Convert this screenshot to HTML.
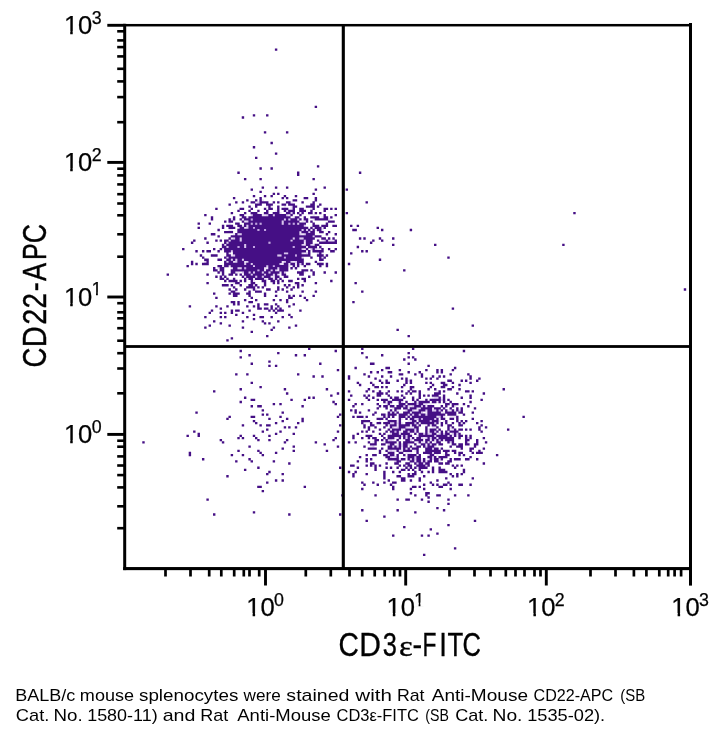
<!DOCTYPE html>
<html lang="en"><head><meta charset="utf-8">
<title>CD22-APC vs CD3ε-FITC flow cytometry dot plot</title>
<style>html,body{margin:0;padding:0;background:#fff;}body{width:720px;height:736px;overflow:hidden;}svg{display:block;}</style>
</head><body>
<svg width="720" height="736" viewBox="0 0 720 736">
<rect width="720" height="736" fill="#fff"/>
<path fill="#ece2f6" d="M261.73 199.26h2.21v2.12h-2.21zM290.46 201.38h2.21v2.12h-2.21zM266.15 205.63h2.21v2.12h-2.21zM270.57 205.63h2.21v2.12h-2.21zM283.83 205.63h2.21v2.12h-2.21zM290.46 205.63h2.21v2.12h-2.21zM290.46 207.75h2.21v2.12h-2.21zM310.35 207.75h2.21v2.12h-2.21zM274.99 209.87h2.21v2.12h-2.21zM257.31 211.99h2.21v2.12h-2.21zM279.41 211.99h2.21v2.12h-2.21zM299.3 211.99h2.21v2.12h-2.21zM261.73 214.12h4.42v2.12h-4.42zM288.25 214.12h2.21v2.12h-2.21zM312.56 214.12h2.21v2.12h-2.21zM246.26 216.24h2.21v2.12h-2.21zM292.67 216.24h2.21v2.12h-2.21zM321.4 216.24h2.21v2.12h-2.21zM230.79 218.36h2.21v2.12h-2.21zM241.84 218.36h2.21v2.12h-2.21zM312.56 218.36h2.21v2.12h-2.21zM328.03 218.36h2.21v2.12h-2.21zM244.05 220.48h2.21v2.12h-2.21zM301.51 220.48h4.42v2.12h-4.42zM228.58 222.61h2.21v2.12h-2.21zM241.84 224.73h2.21v2.12h-2.21zM237.42 226.85h2.21v2.12h-2.21zM244.05 226.85h2.21v2.12h-2.21zM312.56 226.85h2.21v2.12h-2.21zM321.4 226.85h2.21v2.12h-2.21zM228.58 228.97h4.42v2.12h-4.42zM310.35 228.97h2.21v2.12h-2.21zM314.77 228.97h2.21v2.12h-2.21zM321.4 228.97h2.21v2.12h-2.21zM299.3 231.1h2.21v2.12h-2.21zM233 233.22h2.21v2.12h-2.21zM301.51 233.22h2.21v2.12h-2.21zM230.79 237.47h2.21v2.12h-2.21zM228.58 239.59h2.21v2.12h-2.21zM321.4 239.59h2.21v2.12h-2.21zM328.03 239.59h6.63v2.12h-6.63zM303.72 241.71h2.21v2.12h-2.21zM224.16 243.83h2.21v2.12h-2.21zM303.72 243.83h2.21v2.12h-2.21zM312.56 243.83h2.21v2.12h-2.21zM305.93 245.96h2.21v2.12h-2.21zM221.95 248.08h2.21v2.12h-2.21zM303.72 248.08h2.21v2.12h-2.21zM316.98 248.08h4.42v2.12h-4.42zM228.58 252.32h2.21v2.12h-2.21zM303.72 252.32h2.21v2.12h-2.21zM321.4 252.32h2.21v2.12h-2.21zM230.79 254.45h2.21v2.12h-2.21zM233 260.81h2.21v2.12h-2.21zM244.05 260.81h2.21v2.12h-2.21zM281.62 260.81h2.21v2.12h-2.21zM292.67 260.81h2.21v2.12h-2.21zM319.19 260.81h2.21v2.12h-2.21zM281.62 262.94h2.21v2.12h-2.21zM288.25 262.94h2.21v2.12h-2.21zM294.88 262.94h2.21v2.12h-2.21zM221.95 265.06h2.21v2.12h-2.21zM228.58 265.06h2.21v2.12h-2.21zM288.25 265.06h2.21v2.12h-2.21zM294.88 265.06h2.21v2.12h-2.21zM217.53 267.18h2.21v2.12h-2.21zM230.79 267.18h2.21v2.12h-2.21zM263.94 267.18h4.42v2.12h-4.42zM263.94 269.31h2.21v2.12h-2.21zM277.2 269.31h2.21v2.12h-2.21zM219.74 271.43h2.21v2.12h-2.21zM235.21 271.43h4.42v2.12h-4.42zM279.41 271.43h2.21v2.12h-2.21zM303.72 271.43h2.21v2.12h-2.21zM277.2 273.55h2.21v2.12h-2.21zM221.95 275.67h2.21v2.12h-2.21zM244.05 275.67h2.21v2.12h-2.21zM270.57 275.67h4.42v2.12h-4.42zM246.26 277.8h2.21v2.12h-2.21zM252.89 277.8h2.21v2.12h-2.21zM263.94 277.8h4.42v2.12h-4.42zM272.78 277.8h2.21v2.12h-2.21zM277.2 277.8h2.21v2.12h-2.21zM252.89 279.92h2.21v2.12h-2.21zM274.99 279.92h2.21v2.12h-2.21zM233 282.04h2.21v2.12h-2.21zM294.88 284.16h2.21v2.12h-2.21zM250.68 288.41h2.21v2.12h-2.21zM255.1 288.41h2.21v2.12h-2.21zM235.21 290.53h2.21v2.12h-2.21zM230.79 292.65h2.21v2.12h-2.21zM277.2 307.51h2.21v2.12h-2.21zM407.6 379.68h2.21v2.12h-2.21zM440.75 383.93h2.21v2.12h-2.21zM412.02 388.17h2.21v2.12h-2.21zM436.33 390.3h2.21v2.12h-2.21zM398.76 396.66h2.21v2.12h-2.21zM431.91 396.66h2.21v2.12h-2.21zM440.75 396.66h2.21v2.12h-2.21zM385.5 400.91h2.21v2.12h-2.21zM396.55 400.91h2.21v2.12h-2.21zM412.02 400.91h2.21v2.12h-2.21zM416.44 400.91h2.21v2.12h-2.21zM436.33 400.91h2.21v2.12h-2.21zM445.17 400.91h2.21v2.12h-2.21zM385.5 403.03h2.21v2.12h-2.21zM389.92 403.03h2.21v2.12h-2.21zM423.07 403.03h4.42v2.12h-4.42zM429.7 403.03h2.21v2.12h-2.21zM407.6 405.16h4.42v2.12h-4.42zM425.28 405.16h2.21v2.12h-2.21zM454.01 405.16h2.21v2.12h-2.21zM392.13 407.28h2.21v2.12h-2.21zM407.6 407.28h2.21v2.12h-2.21zM416.44 407.28h4.42v2.12h-4.42zM431.91 407.28h2.21v2.12h-2.21zM396.55 409.4h2.21v2.12h-2.21zM414.23 409.4h4.42v2.12h-4.42zM447.38 409.4h4.42v2.12h-4.42zM454.01 409.4h2.21v2.12h-2.21zM394.34 411.52h2.21v2.12h-2.21zM409.81 411.52h2.21v2.12h-2.21zM425.28 411.52h2.21v2.12h-2.21zM440.75 411.52h4.42v2.12h-4.42zM385.5 413.65h2.21v2.12h-2.21zM407.6 413.65h2.21v2.12h-2.21zM381.08 415.77h2.21v2.12h-2.21zM385.5 415.77h2.21v2.12h-2.21zM389.92 415.77h2.21v2.12h-2.21zM405.39 415.77h2.21v2.12h-2.21zM409.81 415.77h2.21v2.12h-2.21zM436.33 415.77h2.21v2.12h-2.21zM442.96 415.77h2.21v2.12h-2.21zM449.59 415.77h6.63v2.12h-6.63zM363.4 417.89h2.21v2.12h-2.21zM389.92 417.89h2.21v2.12h-2.21zM400.97 417.89h2.21v2.12h-2.21zM378.87 420.01h2.21v2.12h-2.21zM385.5 420.01h2.21v2.12h-2.21zM396.55 420.01h2.21v2.12h-2.21zM407.6 420.01h2.21v2.12h-2.21zM438.54 420.01h2.21v2.12h-2.21zM442.96 420.01h2.21v2.12h-2.21zM363.4 422.14h2.21v2.12h-2.21zM400.97 422.14h2.21v2.12h-2.21zM418.65 422.14h2.21v2.12h-2.21zM460.64 422.14h2.21v2.12h-2.21zM387.71 424.26h2.21v2.12h-2.21zM396.55 424.26h2.21v2.12h-2.21zM409.81 424.26h2.21v2.12h-2.21zM416.44 424.26h2.21v2.12h-2.21zM425.28 424.26h2.21v2.12h-2.21zM429.7 424.26h2.21v2.12h-2.21zM394.34 426.38h2.21v2.12h-2.21zM407.6 426.38h6.63v2.12h-6.63zM431.91 426.38h4.42v2.12h-4.42zM449.59 426.38h2.21v2.12h-2.21zM389.92 428.5h2.21v2.12h-2.21zM400.97 428.5h4.42v2.12h-4.42zM427.49 428.5h2.21v2.12h-2.21zM449.59 428.5h4.42v2.12h-4.42zM398.76 430.63h2.21v2.12h-2.21zM414.23 430.63h2.21v2.12h-2.21zM427.49 430.63h2.21v2.12h-2.21zM447.38 430.63h2.21v2.12h-2.21zM398.76 432.75h2.21v2.12h-2.21zM409.81 432.75h2.21v2.12h-2.21zM416.44 434.87h2.21v2.12h-2.21zM451.8 434.87h2.21v2.12h-2.21zM456.22 434.87h2.21v2.12h-2.21zM394.34 437h4.42v2.12h-4.42zM409.81 437h2.21v2.12h-2.21zM423.07 437h2.21v2.12h-2.21zM436.33 437h2.21v2.12h-2.21zM392.13 439.12h2.21v2.12h-2.21zM429.7 439.12h2.21v2.12h-2.21zM434.12 439.12h2.21v2.12h-2.21zM442.96 439.12h2.21v2.12h-2.21zM372.24 441.24h2.21v2.12h-2.21zM383.29 441.24h2.21v2.12h-2.21zM416.44 441.24h2.21v2.12h-2.21zM420.86 441.24h4.42v2.12h-4.42zM427.49 441.24h2.21v2.12h-2.21zM434.12 441.24h2.21v2.12h-2.21zM467.27 441.24h2.21v2.12h-2.21zM396.55 443.36h2.21v2.12h-2.21zM425.28 443.36h2.21v2.12h-2.21zM370.03 445.49h2.21v2.12h-2.21zM414.23 445.49h2.21v2.12h-2.21zM434.12 445.49h2.21v2.12h-2.21zM400.97 447.61h2.21v2.12h-2.21zM409.81 447.61h2.21v2.12h-2.21zM387.71 449.73h2.21v2.12h-2.21zM392.13 449.73h4.42v2.12h-4.42zM398.76 449.73h4.42v2.12h-4.42zM414.23 449.73h2.21v2.12h-2.21zM405.39 451.85h6.63v2.12h-6.63zM447.38 451.85h2.21v2.12h-2.21zM416.44 453.98h2.21v2.12h-2.21zM436.33 453.98h2.21v2.12h-2.21zM442.96 453.98h2.21v2.12h-2.21zM392.13 456.1h2.21v2.12h-2.21zM405.39 456.1h2.21v2.12h-2.21zM398.76 458.22h2.21v2.12h-2.21zM420.86 458.22h2.21v2.12h-2.21zM427.49 458.22h2.21v2.12h-2.21zM438.54 458.22h2.21v2.12h-2.21zM414.23 460.34h2.21v2.12h-2.21zM425.28 460.34h2.21v2.12h-2.21zM438.54 460.34h2.21v2.12h-2.21zM409.81 462.47h2.21v2.12h-2.21zM423.07 462.47h2.21v2.12h-2.21zM372.24 464.59h2.21v2.12h-2.21zM405.39 464.59h2.21v2.12h-2.21zM407.6 466.71h2.21v2.12h-2.21zM416.44 466.71h2.21v2.12h-2.21zM420.86 468.84h2.21v2.12h-2.21zM409.81 473.08h2.21v2.12h-2.21z"/>
<path fill="#d9c5ee" d="M257.31 201.38h2.21v2.12h-2.21zM286.04 209.87h2.21v2.12h-2.21zM290.46 211.99h2.21v2.12h-2.21zM250.68 214.12h2.21v2.12h-2.21zM266.15 214.12h2.21v2.12h-2.21zM272.78 214.12h2.21v2.12h-2.21zM286.04 214.12h2.21v2.12h-2.21zM283.83 218.36h2.21v2.12h-2.21zM288.25 218.36h2.21v2.12h-2.21zM297.09 218.36h2.21v2.12h-2.21zM246.26 220.48h2.21v2.12h-2.21zM281.62 220.48h2.21v2.12h-2.21zM281.62 222.61h2.21v2.12h-2.21zM297.09 222.61h2.21v2.12h-2.21zM246.26 224.73h2.21v2.12h-2.21zM303.72 224.73h2.21v2.12h-2.21zM246.26 226.85h2.21v2.12h-2.21zM301.51 228.97h2.21v2.12h-2.21zM305.93 228.97h2.21v2.12h-2.21zM308.14 231.1h2.21v2.12h-2.21zM237.42 233.22h4.42v2.12h-4.42zM299.3 233.22h2.21v2.12h-2.21zM303.72 233.22h2.21v2.12h-2.21zM312.56 235.34h2.21v2.12h-2.21zM233 237.47h2.21v2.12h-2.21zM239.63 237.47h2.21v2.12h-2.21zM292.67 237.47h2.21v2.12h-2.21zM299.3 237.47h4.42v2.12h-4.42zM239.63 239.59h2.21v2.12h-2.21zM290.46 239.59h2.21v2.12h-2.21zM303.72 239.59h2.21v2.12h-2.21zM323.61 239.59h2.21v2.12h-2.21zM226.37 241.71h2.21v2.12h-2.21zM244.05 243.83h2.21v2.12h-2.21zM301.51 243.83h2.21v2.12h-2.21zM310.35 243.83h2.21v2.12h-2.21zM226.37 245.96h2.21v2.12h-2.21zM244.05 245.96h2.21v2.12h-2.21zM301.51 248.08h2.21v2.12h-2.21zM310.35 248.08h2.21v2.12h-2.21zM314.77 248.08h2.21v2.12h-2.21zM230.79 250.2h2.21v2.12h-2.21zM283.83 252.32h4.42v2.12h-4.42zM301.51 252.32h2.21v2.12h-2.21zM305.93 252.32h2.21v2.12h-2.21zM316.98 252.32h2.21v2.12h-2.21zM233 254.45h2.21v2.12h-2.21zM277.2 254.45h4.42v2.12h-4.42zM226.37 256.57h2.21v2.12h-2.21zM301.51 256.57h2.21v2.12h-2.21zM321.4 256.57h2.21v2.12h-2.21zM230.79 258.69h2.21v2.12h-2.21zM235.21 258.69h2.21v2.12h-2.21zM241.84 258.69h2.21v2.12h-2.21zM204.27 260.81h2.21v2.12h-2.21zM226.37 260.81h2.21v2.12h-2.21zM235.21 260.81h2.21v2.12h-2.21zM246.26 260.81h2.21v2.12h-2.21zM283.83 260.81h2.21v2.12h-2.21zM290.46 260.81h2.21v2.12h-2.21zM294.88 260.81h2.21v2.12h-2.21zM244.05 262.94h2.21v2.12h-2.21zM250.68 262.94h2.21v2.12h-2.21zM279.41 262.94h2.21v2.12h-2.21zM299.3 262.94h2.21v2.12h-2.21zM252.89 265.06h2.21v2.12h-2.21zM266.15 265.06h2.21v2.12h-2.21zM237.42 267.18h4.42v2.12h-4.42zM277.2 267.18h2.21v2.12h-2.21zM270.57 269.31h2.21v2.12h-2.21zM274.99 269.31h2.21v2.12h-2.21zM241.84 271.43h2.21v2.12h-2.21zM248.47 271.43h2.21v2.12h-2.21zM252.89 271.43h2.21v2.12h-2.21zM261.73 271.43h2.21v2.12h-2.21zM268.36 271.43h2.21v2.12h-2.21zM283.83 271.43h2.21v2.12h-2.21zM250.68 273.55h2.21v2.12h-2.21zM263.94 273.55h2.21v2.12h-2.21zM272.78 273.55h2.21v2.12h-2.21zM255.1 275.67h2.21v2.12h-2.21zM261.73 275.67h2.21v2.12h-2.21zM252.89 284.16h2.21v2.12h-2.21zM434.12 396.66h4.42v2.12h-4.42zM440.75 398.79h2.21v2.12h-2.21zM400.97 400.91h2.21v2.12h-2.21zM416.44 403.03h2.21v2.12h-2.21zM403.18 405.16h2.21v2.12h-2.21zM412.02 405.16h2.21v2.12h-2.21zM420.86 405.16h2.21v2.12h-2.21zM405.39 409.4h2.21v2.12h-2.21zM412.02 409.4h2.21v2.12h-2.21zM425.28 409.4h2.21v2.12h-2.21zM431.91 409.4h4.42v2.12h-4.42zM438.54 409.4h2.21v2.12h-2.21zM458.43 409.4h2.21v2.12h-2.21zM389.92 411.52h2.21v2.12h-2.21zM420.86 411.52h2.21v2.12h-2.21zM412.02 413.65h2.21v2.12h-2.21zM418.65 413.65h2.21v2.12h-2.21zM425.28 413.65h2.21v2.12h-2.21zM438.54 415.77h2.21v2.12h-2.21zM414.23 417.89h4.42v2.12h-4.42zM434.12 417.89h2.21v2.12h-2.21zM409.81 420.01h2.21v2.12h-2.21zM389.92 422.14h4.42v2.12h-4.42zM396.55 422.14h2.21v2.12h-2.21zM414.23 422.14h2.21v2.12h-2.21zM434.12 422.14h2.21v2.12h-2.21zM392.13 426.38h2.21v2.12h-2.21zM396.55 426.38h2.21v2.12h-2.21zM405.39 426.38h2.21v2.12h-2.21zM414.23 428.5h2.21v2.12h-2.21zM407.6 430.63h2.21v2.12h-2.21zM434.12 430.63h2.21v2.12h-2.21zM389.92 432.75h2.21v2.12h-2.21zM423.07 432.75h2.21v2.12h-2.21zM427.49 432.75h4.42v2.12h-4.42zM438.54 432.75h2.21v2.12h-2.21zM442.96 432.75h2.21v2.12h-2.21zM451.8 432.75h2.21v2.12h-2.21zM456.22 432.75h2.21v2.12h-2.21zM400.97 434.87h2.21v2.12h-2.21zM405.39 434.87h2.21v2.12h-2.21zM434.12 434.87h2.21v2.12h-2.21zM447.38 434.87h2.21v2.12h-2.21zM405.39 437h2.21v2.12h-2.21zM420.86 437h2.21v2.12h-2.21zM425.28 437h2.21v2.12h-2.21zM429.7 437h2.21v2.12h-2.21zM467.27 437h2.21v2.12h-2.21zM387.71 439.12h4.42v2.12h-4.42zM409.81 439.12h2.21v2.12h-2.21zM438.54 439.12h2.21v2.12h-2.21zM449.59 441.24h2.21v2.12h-2.21zM387.71 443.36h2.21v2.12h-2.21zM400.97 443.36h2.21v2.12h-2.21zM407.6 443.36h2.21v2.12h-2.21zM429.7 443.36h2.21v2.12h-2.21zM372.24 445.49h2.21v2.12h-2.21zM392.13 445.49h2.21v2.12h-2.21zM396.55 445.49h2.21v2.12h-2.21zM400.97 445.49h2.21v2.12h-2.21zM425.28 445.49h2.21v2.12h-2.21zM405.39 447.61h2.21v2.12h-2.21zM431.91 447.61h2.21v2.12h-2.21zM389.92 449.73h2.21v2.12h-2.21zM431.91 451.85h2.21v2.12h-2.21zM387.71 453.98h2.21v2.12h-2.21zM427.49 453.98h2.21v2.12h-2.21zM389.92 456.1h2.21v2.12h-2.21zM394.34 456.1h2.21v2.12h-2.21zM414.23 456.1h2.21v2.12h-2.21zM431.91 456.1h2.21v2.12h-2.21zM409.81 458.22h2.21v2.12h-2.21zM414.23 458.22h2.21v2.12h-2.21zM431.91 458.22h2.21v2.12h-2.21zM394.34 460.34h2.21v2.12h-2.21zM420.86 460.34h2.21v2.12h-2.21zM416.44 462.47h2.21v2.12h-2.21zM425.28 464.59h2.21v2.12h-2.21z"/>
<path fill="#c3a4e4" d="M250.68 218.36h2.21v2.12h-2.21zM250.68 222.61h2.21v2.12h-2.21zM255.1 222.61h2.21v2.12h-2.21zM259.52 222.61h2.21v2.12h-2.21zM288.25 222.61h2.21v2.12h-2.21zM292.67 222.61h2.21v2.12h-2.21zM252.89 226.85h2.21v2.12h-2.21zM257.31 228.97h2.21v2.12h-2.21zM263.94 228.97h2.21v2.12h-2.21zM268.36 241.71h2.21v2.12h-2.21zM237.42 245.96h2.21v2.12h-2.21zM252.89 245.96h2.21v2.12h-2.21zM292.67 245.96h2.21v2.12h-2.21zM294.88 254.45h2.21v2.12h-2.21zM283.83 256.57h2.21v2.12h-2.21zM272.78 265.06h2.21v2.12h-2.21zM244.05 267.18h2.21v2.12h-2.21zM257.31 269.31h2.21v2.12h-2.21zM420.86 417.89h2.21v2.12h-2.21zM429.7 420.01h2.21v2.12h-2.21zM394.34 430.63h2.21v2.12h-2.21z"/>
<path fill="#450f85" d="M274.89 48.45h2.41v2.32h-2.41zM314.67 105.76h2.41v2.32h-2.41zM252.79 114.25h2.41v2.32h-2.41zM266.05 114.25h2.41v2.32h-2.41zM241.74 116.37h2.41v2.32h-2.41zM263.84 131.23h2.41v2.32h-2.41zM285.94 131.23h2.41v2.32h-2.41zM270.47 141.85h2.41v2.32h-2.41zM252.79 146.09h2.41v2.32h-2.41zM274.89 152.46h2.41v2.32h-2.41zM255 156.7h2.41v2.32h-2.41zM316.88 165.2h2.41v2.32h-2.41zM259.42 167.32h2.41v2.32h-2.41zM270.47 167.32h2.41v2.32h-2.41zM237.32 171.56h2.41v2.32h-2.41zM296.99 171.56h2.41v2.32h-2.41zM358.88 171.56h2.41v2.32h-2.41zM296.99 173.69h2.41v2.32h-2.41zM243.95 177.93h2.41v2.32h-2.41zM259.42 177.93h2.41v2.32h-2.41zM312.46 177.93h2.41v2.32h-2.41zM261.63 186.42h2.41v2.32h-2.41zM274.89 186.42h2.41v2.32h-2.41zM285.94 186.42h2.41v2.32h-2.41zM323.51 186.42h2.41v2.32h-2.41zM250.58 188.54h2.41v2.32h-2.41zM314.67 188.54h2.41v2.32h-2.41zM345.62 188.54h2.41v2.32h-2.41zM259.42 190.67h2.41v2.32h-2.41zM272.68 192.79h2.41v2.32h-2.41zM277.1 192.79h2.41v2.32h-2.41zM312.46 192.79h2.41v2.32h-2.41zM252.79 194.91h2.41v2.32h-2.41zM263.84 194.91h2.41v2.32h-2.41zM270.47 194.91h2.41v2.32h-2.41zM283.73 194.91h2.41v2.32h-2.41zM294.78 194.91h2.41v2.32h-2.41zM232.9 197.04h2.41v2.32h-2.41zM259.42 197.04h2.41v2.32h-2.41zM281.52 197.04h2.41v2.32h-2.41zM285.94 197.04h2.41v2.32h-2.41zM303.62 197.04h4.62v2.32h-4.62zM314.67 197.04h2.41v2.32h-2.41zM246.16 199.16h2.41v2.32h-2.41zM255 199.16h2.41v2.32h-2.41zM259.42 199.16h2.41v2.32h-2.41zM292.57 199.16h4.62v2.32h-4.62zM314.67 199.16h2.41v2.32h-2.41zM235.11 201.28h2.41v2.32h-2.41zM241.74 201.28h2.41v2.32h-2.41zM250.58 201.28h4.62v2.32h-4.62zM259.42 201.28h9.04v2.32h-9.04zM272.68 201.28h2.41v2.32h-2.41zM277.1 201.28h2.41v2.32h-2.41zM285.94 201.28h4.62v2.32h-4.62zM301.41 201.28h2.41v2.32h-2.41zM312.46 201.28h2.41v2.32h-2.41zM365.51 201.28h2.41v2.32h-2.41zM228.48 203.4h2.41v2.32h-2.41zM255 203.4h6.83v2.32h-6.83zM266.05 203.4h6.83v2.32h-6.83zM281.52 203.4h4.62v2.32h-4.62zM288.15 203.4h6.83v2.32h-6.83zM310.25 203.4h4.62v2.32h-4.62zM319.09 203.4h2.41v2.32h-2.41zM248.37 205.53h2.41v2.32h-2.41zM255 205.53h2.41v2.32h-2.41zM268.26 205.53h2.41v2.32h-2.41zM277.1 205.53h2.41v2.32h-2.41zM292.57 205.53h4.62v2.32h-4.62zM305.83 205.53h9.04v2.32h-9.04zM316.88 205.53h2.41v2.32h-2.41zM215.22 207.65h2.41v2.32h-2.41zM239.53 207.65h4.62v2.32h-4.62zM250.58 207.65h2.41v2.32h-2.41zM263.84 207.65h2.41v2.32h-2.41zM268.26 207.65h4.62v2.32h-4.62zM277.1 207.65h2.41v2.32h-2.41zM281.52 207.65h6.83v2.32h-6.83zM292.57 207.65h2.41v2.32h-2.41zM299.2 207.65h4.62v2.32h-4.62zM312.46 207.65h2.41v2.32h-2.41zM323.51 207.65h4.62v2.32h-4.62zM330.14 207.65h2.41v2.32h-2.41zM334.56 207.65h2.41v2.32h-2.41zM237.32 209.77h2.41v2.32h-2.41zM248.37 209.77h2.41v2.32h-2.41zM257.21 209.77h2.41v2.32h-2.41zM266.05 209.77h2.41v2.32h-2.41zM277.1 209.77h2.41v2.32h-2.41zM283.73 209.77h2.41v2.32h-2.41zM288.15 209.77h6.83v2.32h-6.83zM299.2 209.77h6.83v2.32h-6.83zM310.25 209.77h2.41v2.32h-2.41zM323.51 209.77h2.41v2.32h-2.41zM230.69 211.89h2.41v2.32h-2.41zM243.95 211.89h2.41v2.32h-2.41zM250.58 211.89h6.83v2.32h-6.83zM263.84 211.89h4.62v2.32h-4.62zM272.68 211.89h6.83v2.32h-6.83zM285.94 211.89h4.62v2.32h-4.62zM292.57 211.89h2.41v2.32h-2.41zM296.99 211.89h2.41v2.32h-2.41zM301.41 211.89h2.41v2.32h-2.41zM308.04 211.89h4.62v2.32h-4.62zM314.67 211.89h2.41v2.32h-2.41zM319.09 211.89h2.41v2.32h-2.41zM345.62 211.89h2.41v2.32h-2.41zM573.26 211.89h2.41v2.32h-2.41zM204.17 214.02h2.41v2.32h-2.41zM239.53 214.02h4.62v2.32h-4.62zM252.79 214.02h9.04v2.32h-9.04zM268.26 214.02h4.62v2.32h-4.62zM274.89 214.02h11.25v2.32h-11.25zM290.36 214.02h2.41v2.32h-2.41zM299.2 214.02h2.41v2.32h-2.41zM323.51 214.02h2.41v2.32h-2.41zM334.56 214.02h2.41v2.32h-2.41zM210.8 216.14h2.41v2.32h-2.41zM232.9 216.14h2.41v2.32h-2.41zM241.74 216.14h4.62v2.32h-4.62zM248.37 216.14h42.19v2.32h-42.19zM294.78 216.14h4.62v2.32h-4.62zM303.62 216.14h2.41v2.32h-2.41zM310.25 216.14h9.04v2.32h-9.04zM323.51 216.14h4.62v2.32h-4.62zM330.14 216.14h2.41v2.32h-2.41zM210.8 218.26h2.41v2.32h-2.41zM228.48 218.26h2.41v2.32h-2.41zM232.9 218.26h2.41v2.32h-2.41zM239.53 218.26h2.41v2.32h-2.41zM243.95 218.26h6.83v2.32h-6.83zM252.79 218.26h31.14v2.32h-31.14zM285.94 218.26h2.41v2.32h-2.41zM290.36 218.26h6.83v2.32h-6.83zM299.2 218.26h2.41v2.32h-2.41zM303.62 218.26h4.62v2.32h-4.62zM314.67 218.26h13.46v2.32h-13.46zM224.06 220.38h2.41v2.32h-2.41zM228.48 220.38h4.62v2.32h-4.62zM241.74 220.38h2.41v2.32h-2.41zM248.37 220.38h33.35v2.32h-33.35zM283.73 220.38h15.67v2.32h-15.67zM305.83 220.38h2.41v2.32h-2.41zM310.25 220.38h2.41v2.32h-2.41zM327.93 220.38h6.83v2.32h-6.83zM197.54 222.51h2.41v2.32h-2.41zM208.59 222.51h2.41v2.32h-2.41zM235.11 222.51h4.62v2.32h-4.62zM243.95 222.51h6.83v2.32h-6.83zM252.79 222.51h2.41v2.32h-2.41zM257.21 222.51h2.41v2.32h-2.41zM261.63 222.51h20.09v2.32h-20.09zM283.73 222.51h4.62v2.32h-4.62zM290.36 222.51h2.41v2.32h-2.41zM294.78 222.51h2.41v2.32h-2.41zM299.2 222.51h6.83v2.32h-6.83zM312.46 222.51h2.41v2.32h-2.41zM325.72 222.51h2.41v2.32h-2.41zM221.85 224.63h2.41v2.32h-2.41zM226.27 224.63h6.83v2.32h-6.83zM237.32 224.63h4.62v2.32h-4.62zM243.95 224.63h2.41v2.32h-2.41zM248.37 224.63h55.45v2.32h-55.45zM312.46 224.63h6.83v2.32h-6.83zM321.3 224.63h6.83v2.32h-6.83zM332.35 224.63h4.62v2.32h-4.62zM350.04 224.63h2.41v2.32h-2.41zM356.67 224.63h2.41v2.32h-2.41zM197.54 226.75h2.41v2.32h-2.41zM221.85 226.75h2.41v2.32h-2.41zM228.48 226.75h6.83v2.32h-6.83zM239.53 226.75h4.62v2.32h-4.62zM248.37 226.75h4.62v2.32h-4.62zM255 226.75h53.24v2.32h-53.24zM310.25 226.75h2.41v2.32h-2.41zM314.67 226.75h6.83v2.32h-6.83zM323.51 226.75h2.41v2.32h-2.41zM376.56 226.75h2.41v2.32h-2.41zM217.43 228.87h2.41v2.32h-2.41zM237.32 228.87h20.09v2.32h-20.09zM259.42 228.87h4.62v2.32h-4.62zM266.05 228.87h35.56v2.32h-35.56zM303.62 228.87h2.41v2.32h-2.41zM308.04 228.87h2.41v2.32h-2.41zM312.46 228.87h2.41v2.32h-2.41zM316.88 228.87h4.62v2.32h-4.62zM352.25 228.87h4.62v2.32h-4.62zM380.98 228.87h2.41v2.32h-2.41zM409.71 228.87h2.41v2.32h-2.41zM224.06 231h9.04v2.32h-9.04zM237.32 231h62.08v2.32h-62.08zM301.41 231h6.83v2.32h-6.83zM310.25 231h4.62v2.32h-4.62zM319.09 231h4.62v2.32h-4.62zM327.93 231h2.41v2.32h-2.41zM210.8 233.12h4.62v2.32h-4.62zM235.11 233.12h2.41v2.32h-2.41zM241.74 233.12h57.66v2.32h-57.66zM305.83 233.12h9.04v2.32h-9.04zM325.72 233.12h2.41v2.32h-2.41zM334.56 233.12h2.41v2.32h-2.41zM217.43 235.24h2.41v2.32h-2.41zM230.69 235.24h81.98v2.32h-81.98zM314.67 235.24h6.83v2.32h-6.83zM204.17 237.37h2.41v2.32h-2.41zM228.48 237.37h2.41v2.32h-2.41zM235.11 237.37h4.62v2.32h-4.62zM241.74 237.37h51.03v2.32h-51.03zM294.78 237.37h4.62v2.32h-4.62zM303.62 237.37h11.25v2.32h-11.25zM321.3 237.37h4.62v2.32h-4.62zM327.93 237.37h2.41v2.32h-2.41zM332.35 237.37h2.41v2.32h-2.41zM358.88 237.37h2.41v2.32h-2.41zM363.3 237.37h2.41v2.32h-2.41zM378.77 237.37h2.41v2.32h-2.41zM392.03 237.37h2.41v2.32h-2.41zM193.11 239.49h2.41v2.32h-2.41zM215.22 239.49h2.41v2.32h-2.41zM219.64 239.49h2.41v2.32h-2.41zM224.06 239.49h4.62v2.32h-4.62zM230.69 239.49h9.04v2.32h-9.04zM241.74 239.49h48.82v2.32h-48.82zM292.57 239.49h11.25v2.32h-11.25zM305.83 239.49h6.83v2.32h-6.83zM316.88 239.49h2.41v2.32h-2.41zM325.72 239.49h2.41v2.32h-2.41zM334.56 239.49h2.41v2.32h-2.41zM372.14 239.49h2.41v2.32h-2.41zM380.98 239.49h2.41v2.32h-2.41zM190.9 241.61h2.41v2.32h-2.41zM206.38 241.61h2.41v2.32h-2.41zM224.06 241.61h2.41v2.32h-2.41zM228.48 241.61h39.98v2.32h-39.98zM270.47 241.61h33.35v2.32h-33.35zM305.83 241.61h6.83v2.32h-6.83zM319.09 241.61h17.88v2.32h-17.88zM369.93 241.61h2.41v2.32h-2.41zM221.85 243.73h2.41v2.32h-2.41zM226.27 243.73h17.88v2.32h-17.88zM246.16 243.73h55.45v2.32h-55.45zM305.83 243.73h4.62v2.32h-4.62zM314.67 243.73h4.62v2.32h-4.62zM392.03 243.73h2.41v2.32h-2.41zM434.02 243.73h2.41v2.32h-2.41zM562.21 243.73h2.41v2.32h-2.41zM221.85 245.86h4.62v2.32h-4.62zM228.48 245.86h9.04v2.32h-9.04zM239.53 245.86h4.62v2.32h-4.62zM246.16 245.86h6.83v2.32h-6.83zM255 245.86h37.77v2.32h-37.77zM294.78 245.86h11.25v2.32h-11.25zM308.04 245.86h9.04v2.32h-9.04zM319.09 245.86h2.41v2.32h-2.41zM356.67 245.86h2.41v2.32h-2.41zM182.06 247.98h2.41v2.32h-2.41zM213.01 247.98h2.41v2.32h-2.41zM219.64 247.98h2.41v2.32h-2.41zM224.06 247.98h77.56v2.32h-77.56zM305.83 247.98h2.41v2.32h-2.41zM312.46 247.98h2.41v2.32h-2.41zM321.3 247.98h2.41v2.32h-2.41zM327.93 247.98h2.41v2.32h-2.41zM334.56 247.98h2.41v2.32h-2.41zM195.33 250.1h2.41v2.32h-2.41zM201.96 250.1h2.41v2.32h-2.41zM206.38 250.1h4.62v2.32h-4.62zM217.43 250.1h2.41v2.32h-2.41zM224.06 250.1h6.83v2.32h-6.83zM232.9 250.1h73.14v2.32h-73.14zM308.04 250.1h2.41v2.32h-2.41zM312.46 250.1h11.25v2.32h-11.25zM330.14 250.1h4.62v2.32h-4.62zM361.09 250.1h2.41v2.32h-2.41zM365.51 250.1h2.41v2.32h-2.41zM226.27 252.22h2.41v2.32h-2.41zM232.9 252.22h51.03v2.32h-51.03zM288.15 252.22h13.46v2.32h-13.46zM308.04 252.22h2.41v2.32h-2.41zM319.09 252.22h2.41v2.32h-2.41zM350.04 252.22h2.41v2.32h-2.41zM199.75 254.35h2.41v2.32h-2.41zM210.8 254.35h6.83v2.32h-6.83zM226.27 254.35h4.62v2.32h-4.62zM235.11 254.35h42.19v2.32h-42.19zM281.52 254.35h13.46v2.32h-13.46zM296.99 254.35h13.46v2.32h-13.46zM316.88 254.35h6.83v2.32h-6.83zM325.72 254.35h2.41v2.32h-2.41zM201.96 256.47h2.41v2.32h-2.41zM224.06 256.47h2.41v2.32h-2.41zM228.48 256.47h55.45v2.32h-55.45zM285.94 256.47h15.67v2.32h-15.67zM310.25 256.47h2.41v2.32h-2.41zM319.09 256.47h2.41v2.32h-2.41zM323.51 256.47h2.41v2.32h-2.41zM447.28 256.47h2.41v2.32h-2.41zM204.17 258.59h4.62v2.32h-4.62zM217.43 258.59h4.62v2.32h-4.62zM226.27 258.59h4.62v2.32h-4.62zM232.9 258.59h2.41v2.32h-2.41zM237.32 258.59h4.62v2.32h-4.62zM243.95 258.59h59.87v2.32h-59.87zM319.09 258.59h4.62v2.32h-4.62zM378.77 258.59h2.41v2.32h-2.41zM190.9 260.71h2.41v2.32h-2.41zM206.38 260.71h2.41v2.32h-2.41zM224.06 260.71h2.41v2.32h-2.41zM228.48 260.71h4.62v2.32h-4.62zM237.32 260.71h6.83v2.32h-6.83zM248.37 260.71h33.35v2.32h-33.35zM285.94 260.71h4.62v2.32h-4.62zM296.99 260.71h6.83v2.32h-6.83zM314.67 260.71h2.41v2.32h-2.41zM190.9 262.84h2.41v2.32h-2.41zM195.33 262.84h2.41v2.32h-2.41zM201.96 262.84h6.83v2.32h-6.83zM224.06 262.84h20.09v2.32h-20.09zM246.16 262.84h4.62v2.32h-4.62zM252.79 262.84h26.72v2.32h-26.72zM283.73 262.84h4.62v2.32h-4.62zM290.36 262.84h4.62v2.32h-4.62zM296.99 262.84h2.41v2.32h-2.41zM301.41 262.84h2.41v2.32h-2.41zM305.83 262.84h4.62v2.32h-4.62zM316.88 262.84h6.83v2.32h-6.83zM325.72 262.84h2.41v2.32h-2.41zM347.83 262.84h2.41v2.32h-2.41zM186.48 264.96h2.41v2.32h-2.41zM217.43 264.96h4.62v2.32h-4.62zM224.06 264.96h4.62v2.32h-4.62zM230.69 264.96h22.3v2.32h-22.3zM255 264.96h11.25v2.32h-11.25zM268.26 264.96h4.62v2.32h-4.62zM274.89 264.96h13.46v2.32h-13.46zM292.57 264.96h2.41v2.32h-2.41zM296.99 264.96h2.41v2.32h-2.41zM303.62 264.96h2.41v2.32h-2.41zM319.09 264.96h2.41v2.32h-2.41zM325.72 264.96h2.41v2.32h-2.41zM213.01 267.08h2.41v2.32h-2.41zM219.64 267.08h4.62v2.32h-4.62zM232.9 267.08h4.62v2.32h-4.62zM241.74 267.08h2.41v2.32h-2.41zM246.16 267.08h17.88v2.32h-17.88zM268.26 267.08h9.04v2.32h-9.04zM279.31 267.08h9.04v2.32h-9.04zM290.36 267.08h2.41v2.32h-2.41zM294.78 267.08h2.41v2.32h-2.41zM213.01 269.21h4.62v2.32h-4.62zM219.64 269.21h4.62v2.32h-4.62zM230.69 269.21h26.72v2.32h-26.72zM259.42 269.21h4.62v2.32h-4.62zM266.05 269.21h4.62v2.32h-4.62zM272.68 269.21h2.41v2.32h-2.41zM279.31 269.21h9.04v2.32h-9.04zM301.41 269.21h6.83v2.32h-6.83zM310.25 269.21h2.41v2.32h-2.41zM403.08 269.21h2.41v2.32h-2.41zM217.43 271.33h2.41v2.32h-2.41zM221.85 271.33h2.41v2.32h-2.41zM230.69 271.33h4.62v2.32h-4.62zM243.95 271.33h4.62v2.32h-4.62zM250.58 271.33h2.41v2.32h-2.41zM255 271.33h6.83v2.32h-6.83zM263.84 271.33h4.62v2.32h-4.62zM270.47 271.33h9.04v2.32h-9.04zM281.52 271.33h2.41v2.32h-2.41zM296.99 271.33h6.83v2.32h-6.83zM312.46 271.33h2.41v2.32h-2.41zM323.51 271.33h2.41v2.32h-2.41zM334.56 271.33h2.41v2.32h-2.41zM166.59 273.45h2.41v2.32h-2.41zM206.38 273.45h2.41v2.32h-2.41zM221.85 273.45h2.41v2.32h-2.41zM228.48 273.45h4.62v2.32h-4.62zM235.11 273.45h2.41v2.32h-2.41zM239.53 273.45h2.41v2.32h-2.41zM243.95 273.45h6.83v2.32h-6.83zM252.79 273.45h11.25v2.32h-11.25zM266.05 273.45h6.83v2.32h-6.83zM274.89 273.45h2.41v2.32h-2.41zM281.52 273.45h4.62v2.32h-4.62zM299.2 273.45h4.62v2.32h-4.62zM312.46 273.45h2.41v2.32h-2.41zM215.22 275.57h2.41v2.32h-2.41zM219.64 275.57h2.41v2.32h-2.41zM224.06 275.57h2.41v2.32h-2.41zM241.74 275.57h2.41v2.32h-2.41zM246.16 275.57h9.04v2.32h-9.04zM257.21 275.57h4.62v2.32h-4.62zM263.84 275.57h6.83v2.32h-6.83zM274.89 275.57h4.62v2.32h-4.62zM283.73 275.57h4.62v2.32h-4.62zM308.04 275.57h2.41v2.32h-2.41zM219.64 277.7h4.62v2.32h-4.62zM226.27 277.7h2.41v2.32h-2.41zM232.9 277.7h2.41v2.32h-2.41zM243.95 277.7h2.41v2.32h-2.41zM248.37 277.7h4.62v2.32h-4.62zM255 277.7h9.04v2.32h-9.04zM268.26 277.7h4.62v2.32h-4.62zM274.89 277.7h2.41v2.32h-2.41zM279.31 277.7h2.41v2.32h-2.41zM296.99 277.7h2.41v2.32h-2.41zM301.41 277.7h4.62v2.32h-4.62zM224.06 279.82h2.41v2.32h-2.41zM228.48 279.82h9.04v2.32h-9.04zM239.53 279.82h2.41v2.32h-2.41zM243.95 279.82h2.41v2.32h-2.41zM250.58 279.82h2.41v2.32h-2.41zM261.63 279.82h4.62v2.32h-4.62zM270.47 279.82h4.62v2.32h-4.62zM277.1 279.82h2.41v2.32h-2.41zM281.52 279.82h2.41v2.32h-2.41zM288.15 279.82h4.62v2.32h-4.62zM303.62 279.82h2.41v2.32h-2.41zM330.14 279.82h2.41v2.32h-2.41zM206.38 281.94h2.41v2.32h-2.41zM235.11 281.94h4.62v2.32h-4.62zM250.58 281.94h4.62v2.32h-4.62zM263.84 281.94h2.41v2.32h-2.41zM272.68 281.94h2.41v2.32h-2.41zM277.1 281.94h2.41v2.32h-2.41zM294.78 281.94h4.62v2.32h-4.62zM314.67 281.94h2.41v2.32h-2.41zM354.46 281.94h2.41v2.32h-2.41zM221.85 284.06h6.83v2.32h-6.83zM230.69 284.06h2.41v2.32h-2.41zM239.53 284.06h2.41v2.32h-2.41zM248.37 284.06h4.62v2.32h-4.62zM255 284.06h2.41v2.32h-2.41zM263.84 284.06h2.41v2.32h-2.41zM283.73 284.06h2.41v2.32h-2.41zM288.15 284.06h2.41v2.32h-2.41zM296.99 284.06h2.41v2.32h-2.41zM301.41 284.06h2.41v2.32h-2.41zM232.9 286.19h2.41v2.32h-2.41zM246.16 286.19h9.04v2.32h-9.04zM257.21 286.19h2.41v2.32h-2.41zM261.63 286.19h2.41v2.32h-2.41zM277.1 286.19h2.41v2.32h-2.41zM285.94 286.19h2.41v2.32h-2.41zM292.57 286.19h2.41v2.32h-2.41zM296.99 286.19h2.41v2.32h-2.41zM228.48 288.31h2.41v2.32h-2.41zM235.11 288.31h2.41v2.32h-2.41zM243.95 288.31h2.41v2.32h-2.41zM252.79 288.31h2.41v2.32h-2.41zM266.05 288.31h4.62v2.32h-4.62zM277.1 288.31h2.41v2.32h-2.41zM281.52 288.31h2.41v2.32h-2.41zM290.36 288.31h2.41v2.32h-2.41zM683.77 288.31h2.41v2.32h-2.41zM230.69 290.43h4.62v2.32h-4.62zM248.37 290.43h2.41v2.32h-2.41zM255 290.43h6.83v2.32h-6.83zM274.89 290.43h2.41v2.32h-2.41zM285.94 290.43h2.41v2.32h-2.41zM301.41 290.43h2.41v2.32h-2.41zM314.67 290.43h2.41v2.32h-2.41zM361.09 290.43h2.41v2.32h-2.41zM213.01 292.55h2.41v2.32h-2.41zM228.48 292.55h2.41v2.32h-2.41zM232.9 292.55h6.83v2.32h-6.83zM246.16 292.55h4.62v2.32h-4.62zM263.84 292.55h2.41v2.32h-2.41zM232.9 294.68h4.62v2.32h-4.62zM248.37 294.68h2.41v2.32h-2.41zM263.84 294.68h2.41v2.32h-2.41zM274.89 294.68h2.41v2.32h-2.41zM288.15 294.68h2.41v2.32h-2.41zM292.57 294.68h2.41v2.32h-2.41zM299.2 294.68h2.41v2.32h-2.41zM312.46 294.68h2.41v2.32h-2.41zM215.22 296.8h2.41v2.32h-2.41zM250.58 296.8h2.41v2.32h-2.41zM288.15 296.8h4.62v2.32h-4.62zM303.62 296.8h2.41v2.32h-2.41zM243.95 298.92h2.41v2.32h-2.41zM255 298.92h2.41v2.32h-2.41zM272.68 298.92h2.41v2.32h-2.41zM279.31 298.92h2.41v2.32h-2.41zM285.94 298.92h2.41v2.32h-2.41zM305.83 298.92h2.41v2.32h-2.41zM230.69 301.05h4.62v2.32h-4.62zM237.32 301.05h2.41v2.32h-2.41zM248.37 301.05h4.62v2.32h-4.62zM285.94 301.05h2.41v2.32h-2.41zM352.25 301.05h2.41v2.32h-2.41zM232.9 303.17h2.41v2.32h-2.41zM237.32 303.17h2.41v2.32h-2.41zM257.21 303.17h2.41v2.32h-2.41zM263.84 303.17h4.62v2.32h-4.62zM274.89 303.17h2.41v2.32h-2.41zM292.57 303.17h2.41v2.32h-2.41zM188.69 305.29h2.41v2.32h-2.41zM215.22 305.29h2.41v2.32h-2.41zM226.27 305.29h2.41v2.32h-2.41zM246.16 305.29h2.41v2.32h-2.41zM252.79 305.29h2.41v2.32h-2.41zM257.21 305.29h2.41v2.32h-2.41zM270.47 305.29h2.41v2.32h-2.41zM277.1 305.29h2.41v2.32h-2.41zM288.15 305.29h2.41v2.32h-2.41zM219.64 307.41h2.41v2.32h-2.41zM257.21 307.41h4.62v2.32h-4.62zM263.84 307.41h4.62v2.32h-4.62zM270.47 307.41h2.41v2.32h-2.41zM274.89 307.41h2.41v2.32h-2.41zM279.31 307.41h2.41v2.32h-2.41zM451.7 307.41h2.41v2.32h-2.41zM210.8 309.54h2.41v2.32h-2.41zM230.69 309.54h2.41v2.32h-2.41zM235.11 309.54h4.62v2.32h-4.62zM248.37 309.54h2.41v2.32h-2.41zM268.26 309.54h2.41v2.32h-2.41zM272.68 309.54h2.41v2.32h-2.41zM277.1 309.54h6.83v2.32h-6.83zM299.2 309.54h2.41v2.32h-2.41zM208.59 311.66h2.41v2.32h-2.41zM219.64 311.66h2.41v2.32h-2.41zM224.06 311.66h2.41v2.32h-2.41zM230.69 311.66h2.41v2.32h-2.41zM241.74 311.66h2.41v2.32h-2.41zM274.89 311.66h2.41v2.32h-2.41zM235.11 313.78h2.41v2.32h-2.41zM252.79 313.78h2.41v2.32h-2.41zM288.15 313.78h2.41v2.32h-2.41zM204.17 315.9h2.41v2.32h-2.41zM219.64 315.9h2.41v2.32h-2.41zM224.06 315.9h2.41v2.32h-2.41zM246.16 315.9h2.41v2.32h-2.41zM259.42 315.9h4.62v2.32h-4.62zM270.47 315.9h2.41v2.32h-2.41zM281.52 315.9h2.41v2.32h-2.41zM290.36 315.9h2.41v2.32h-2.41zM252.79 318.03h2.41v2.32h-2.41zM213.01 320.15h2.41v2.32h-2.41zM241.74 320.15h2.41v2.32h-2.41zM261.63 320.15h2.41v2.32h-2.41zM277.1 320.15h2.41v2.32h-2.41zM219.64 322.27h2.41v2.32h-2.41zM263.84 322.27h2.41v2.32h-2.41zM268.26 322.27h2.41v2.32h-2.41zM208.59 324.39h2.41v2.32h-2.41zM228.48 324.39h2.41v2.32h-2.41zM294.78 324.39h2.41v2.32h-2.41zM471.59 324.39h2.41v2.32h-2.41zM204.17 326.52h2.41v2.32h-2.41zM241.74 326.52h2.41v2.32h-2.41zM272.68 326.52h2.41v2.32h-2.41zM288.15 326.52h2.41v2.32h-2.41zM270.47 328.64h2.41v2.32h-2.41zM396.45 328.64h2.41v2.32h-2.41zM250.58 330.76h2.41v2.32h-2.41zM266.05 335.01h2.41v2.32h-2.41zM407.5 335.01h2.41v2.32h-2.41zM230.69 337.13h2.41v2.32h-2.41zM226.27 339.25h2.41v2.32h-2.41zM308.04 347.74h2.41v2.32h-2.41zM361.09 347.74h2.41v2.32h-2.41zM411.92 347.74h2.41v2.32h-2.41zM239.53 349.87h2.41v2.32h-2.41zM334.56 349.87h2.41v2.32h-2.41zM462.75 349.87h2.41v2.32h-2.41zM277.1 351.99h2.41v2.32h-2.41zM361.09 351.99h2.41v2.32h-2.41zM407.5 351.99h2.41v2.32h-2.41zM248.37 354.11h2.41v2.32h-2.41zM294.78 354.11h2.41v2.32h-2.41zM303.62 354.11h2.41v2.32h-2.41zM380.98 354.11h2.41v2.32h-2.41zM239.53 356.23h2.41v2.32h-2.41zM365.51 356.23h2.41v2.32h-2.41zM407.5 356.23h2.41v2.32h-2.41zM411.92 356.23h2.41v2.32h-2.41zM403.08 358.36h2.41v2.32h-2.41zM414.13 358.36h2.41v2.32h-2.41zM268.26 360.48h2.41v2.32h-2.41zM250.58 362.6h2.41v2.32h-2.41zM319.09 362.6h2.41v2.32h-2.41zM369.93 362.6h4.62v2.32h-4.62zM407.5 362.6h2.41v2.32h-2.41zM268.26 364.72h2.41v2.32h-2.41zM274.89 364.72h2.41v2.32h-2.41zM427.39 364.72h2.41v2.32h-2.41zM354.46 366.85h2.41v2.32h-2.41zM385.4 366.85h4.62v2.32h-4.62zM453.91 366.85h2.41v2.32h-2.41zM336.77 368.97h2.41v2.32h-2.41zM380.98 368.97h2.41v2.32h-2.41zM398.66 368.97h2.41v2.32h-2.41zM425.18 368.97h2.41v2.32h-2.41zM436.23 368.97h2.41v2.32h-2.41zM440.65 368.97h2.41v2.32h-2.41zM451.7 368.97h2.41v2.32h-2.41zM369.93 371.09h2.41v2.32h-2.41zM376.56 371.09h2.41v2.32h-2.41zM387.61 371.09h4.62v2.32h-4.62zM407.5 371.09h2.41v2.32h-2.41zM418.55 371.09h2.41v2.32h-2.41zM436.23 371.09h2.41v2.32h-2.41zM440.65 371.09h2.41v2.32h-2.41zM235.11 373.22h2.41v2.32h-2.41zM246.16 373.22h2.41v2.32h-2.41zM296.99 373.22h2.41v2.32h-2.41zM363.3 373.22h2.41v2.32h-2.41zM398.66 373.22h4.62v2.32h-4.62zM414.13 373.22h2.41v2.32h-2.41zM420.76 373.22h2.41v2.32h-2.41zM449.49 373.22h2.41v2.32h-2.41zM467.17 373.22h2.41v2.32h-2.41zM312.46 375.34h2.41v2.32h-2.41zM321.3 375.34h2.41v2.32h-2.41zM347.83 375.34h2.41v2.32h-2.41zM367.72 375.34h2.41v2.32h-2.41zM380.98 375.34h2.41v2.32h-2.41zM389.82 375.34h2.41v2.32h-2.41zM420.76 375.34h2.41v2.32h-2.41zM431.81 375.34h2.41v2.32h-2.41zM438.44 375.34h2.41v2.32h-2.41zM442.86 375.34h2.41v2.32h-2.41zM469.38 375.34h2.41v2.32h-2.41zM347.83 377.46h2.41v2.32h-2.41zM374.35 377.46h2.41v2.32h-2.41zM400.87 377.46h2.41v2.32h-2.41zM405.29 377.46h2.41v2.32h-2.41zM425.18 377.46h2.41v2.32h-2.41zM429.6 377.46h2.41v2.32h-2.41zM436.23 377.46h2.41v2.32h-2.41zM469.38 377.46h2.41v2.32h-2.41zM478.22 377.46h2.41v2.32h-2.41zM378.77 379.58h2.41v2.32h-2.41zM385.4 379.58h2.41v2.32h-2.41zM396.45 379.58h2.41v2.32h-2.41zM405.29 379.58h2.41v2.32h-2.41zM409.71 379.58h2.41v2.32h-2.41zM447.28 379.58h4.62v2.32h-4.62zM460.54 379.58h2.41v2.32h-2.41zM464.96 379.58h2.41v2.32h-2.41zM476.01 379.58h2.41v2.32h-2.41zM250.58 381.71h2.41v2.32h-2.41zM356.67 381.71h2.41v2.32h-2.41zM369.93 381.71h2.41v2.32h-2.41zM380.98 381.71h2.41v2.32h-2.41zM385.4 381.71h4.62v2.32h-4.62zM405.29 381.71h2.41v2.32h-2.41zM409.71 381.71h2.41v2.32h-2.41zM425.18 381.71h2.41v2.32h-2.41zM429.6 381.71h2.41v2.32h-2.41zM440.65 381.71h4.62v2.32h-4.62zM451.7 381.71h2.41v2.32h-2.41zM469.38 381.71h2.41v2.32h-2.41zM358.88 383.83h2.41v2.32h-2.41zM372.14 383.83h2.41v2.32h-2.41zM403.08 383.83h2.41v2.32h-2.41zM431.81 383.83h2.41v2.32h-2.41zM442.86 383.83h4.62v2.32h-4.62zM458.33 383.83h2.41v2.32h-2.41zM259.42 385.95h2.41v2.32h-2.41zM374.35 385.95h4.62v2.32h-4.62zM380.98 385.95h2.41v2.32h-2.41zM385.4 385.95h2.41v2.32h-2.41zM400.87 385.95h2.41v2.32h-2.41zM409.71 385.95h4.62v2.32h-4.62zM429.6 385.95h2.41v2.32h-2.41zM440.65 385.95h4.62v2.32h-4.62zM451.7 385.95h2.41v2.32h-2.41zM239.53 388.07h2.41v2.32h-2.41zM283.73 388.07h2.41v2.32h-2.41zM325.72 388.07h2.41v2.32h-2.41zM367.72 388.07h2.41v2.32h-2.41zM409.71 388.07h2.41v2.32h-2.41zM427.39 388.07h2.41v2.32h-2.41zM434.02 388.07h2.41v2.32h-2.41zM447.28 388.07h4.62v2.32h-4.62zM458.33 388.07h2.41v2.32h-2.41zM502.54 388.07h2.41v2.32h-2.41zM213.01 390.2h2.41v2.32h-2.41zM347.83 390.2h2.41v2.32h-2.41zM365.51 390.2h2.41v2.32h-2.41zM372.14 390.2h2.41v2.32h-2.41zM378.77 390.2h2.41v2.32h-2.41zM387.61 390.2h2.41v2.32h-2.41zM396.45 390.2h2.41v2.32h-2.41zM400.87 390.2h2.41v2.32h-2.41zM407.5 390.2h2.41v2.32h-2.41zM411.92 390.2h4.62v2.32h-4.62zM418.55 390.2h2.41v2.32h-2.41zM438.44 390.2h2.41v2.32h-2.41zM442.86 390.2h2.41v2.32h-2.41zM464.96 390.2h4.62v2.32h-4.62zM471.59 390.2h2.41v2.32h-2.41zM285.94 392.32h2.41v2.32h-2.41zM336.77 392.32h2.41v2.32h-2.41zM376.56 392.32h6.83v2.32h-6.83zM385.4 392.32h2.41v2.32h-2.41zM405.29 392.32h2.41v2.32h-2.41zM409.71 392.32h2.41v2.32h-2.41zM418.55 392.32h2.41v2.32h-2.41zM434.02 392.32h6.83v2.32h-6.83zM456.12 392.32h2.41v2.32h-2.41zM482.65 392.32h2.41v2.32h-2.41zM330.14 394.44h2.41v2.32h-2.41zM350.04 394.44h2.41v2.32h-2.41zM363.3 394.44h2.41v2.32h-2.41zM367.72 394.44h2.41v2.32h-2.41zM376.56 394.44h4.62v2.32h-4.62zM387.61 394.44h2.41v2.32h-2.41zM400.87 394.44h2.41v2.32h-2.41zM418.55 394.44h2.41v2.32h-2.41zM422.97 394.44h2.41v2.32h-2.41zM427.39 394.44h2.41v2.32h-2.41zM431.81 394.44h6.83v2.32h-6.83zM442.86 394.44h2.41v2.32h-2.41zM469.38 394.44h2.41v2.32h-2.41zM243.95 396.56h2.41v2.32h-2.41zM308.04 396.56h2.41v2.32h-2.41zM312.46 396.56h2.41v2.32h-2.41zM365.51 396.56h2.41v2.32h-2.41zM372.14 396.56h2.41v2.32h-2.41zM389.82 396.56h2.41v2.32h-2.41zM394.24 396.56h4.62v2.32h-4.62zM403.08 396.56h2.41v2.32h-2.41zM411.92 396.56h2.41v2.32h-2.41zM418.55 396.56h2.41v2.32h-2.41zM438.44 396.56h2.41v2.32h-2.41zM442.86 396.56h2.41v2.32h-2.41zM460.54 396.56h2.41v2.32h-2.41zM469.38 396.56h2.41v2.32h-2.41zM250.58 398.69h4.62v2.32h-4.62zM290.36 398.69h2.41v2.32h-2.41zM303.62 398.69h2.41v2.32h-2.41zM347.83 398.69h2.41v2.32h-2.41zM367.72 398.69h2.41v2.32h-2.41zM376.56 398.69h2.41v2.32h-2.41zM380.98 398.69h6.83v2.32h-6.83zM392.03 398.69h11.25v2.32h-11.25zM411.92 398.69h2.41v2.32h-2.41zM416.34 398.69h2.41v2.32h-2.41zM425.18 398.69h2.41v2.32h-2.41zM429.6 398.69h11.25v2.32h-11.25zM442.86 398.69h2.41v2.32h-2.41zM447.28 398.69h2.41v2.32h-2.41zM480.44 398.69h2.41v2.32h-2.41zM239.53 400.81h2.41v2.32h-2.41zM332.35 400.81h2.41v2.32h-2.41zM383.19 400.81h2.41v2.32h-2.41zM387.61 400.81h4.62v2.32h-4.62zM398.66 400.81h2.41v2.32h-2.41zM405.29 400.81h2.41v2.32h-2.41zM414.13 400.81h2.41v2.32h-2.41zM418.55 400.81h11.25v2.32h-11.25zM431.81 400.81h4.62v2.32h-4.62zM438.44 400.81h2.41v2.32h-2.41zM442.86 400.81h2.41v2.32h-2.41zM449.49 400.81h2.41v2.32h-2.41zM469.38 400.81h2.41v2.32h-2.41zM272.68 402.93h2.41v2.32h-2.41zM279.31 402.93h2.41v2.32h-2.41zM334.56 402.93h2.41v2.32h-2.41zM354.46 402.93h2.41v2.32h-2.41zM361.09 402.93h2.41v2.32h-2.41zM376.56 402.93h2.41v2.32h-2.41zM387.61 402.93h2.41v2.32h-2.41zM398.66 402.93h6.83v2.32h-6.83zM407.5 402.93h9.04v2.32h-9.04zM418.55 402.93h4.62v2.32h-4.62zM445.07 402.93h4.62v2.32h-4.62zM451.7 402.93h6.83v2.32h-6.83zM462.75 402.93h2.41v2.32h-2.41zM250.58 405.06h2.41v2.32h-2.41zM257.21 405.06h4.62v2.32h-4.62zM301.41 405.06h2.41v2.32h-2.41zM352.25 405.06h2.41v2.32h-2.41zM378.77 405.06h2.41v2.32h-2.41zM383.19 405.06h4.62v2.32h-4.62zM389.82 405.06h4.62v2.32h-4.62zM396.45 405.06h6.83v2.32h-6.83zM405.29 405.06h2.41v2.32h-2.41zM414.13 405.06h6.83v2.32h-6.83zM422.97 405.06h2.41v2.32h-2.41zM427.39 405.06h6.83v2.32h-6.83zM440.65 405.06h2.41v2.32h-2.41zM445.07 405.06h2.41v2.32h-2.41zM451.7 405.06h2.41v2.32h-2.41zM467.17 405.06h2.41v2.32h-2.41zM376.56 407.18h2.41v2.32h-2.41zM385.4 407.18h2.41v2.32h-2.41zM394.24 407.18h6.83v2.32h-6.83zM403.08 407.18h4.62v2.32h-4.62zM409.71 407.18h6.83v2.32h-6.83zM420.76 407.18h11.25v2.32h-11.25zM434.02 407.18h6.83v2.32h-6.83zM442.86 407.18h2.41v2.32h-2.41zM449.49 407.18h2.41v2.32h-2.41zM456.12 407.18h2.41v2.32h-2.41zM460.54 407.18h2.41v2.32h-2.41zM473.8 407.18h2.41v2.32h-2.41zM261.63 409.3h2.41v2.32h-2.41zM350.04 409.3h2.41v2.32h-2.41zM354.46 409.3h2.41v2.32h-2.41zM367.72 409.3h2.41v2.32h-2.41zM389.82 409.3h2.41v2.32h-2.41zM394.24 409.3h2.41v2.32h-2.41zM407.5 409.3h4.62v2.32h-4.62zM418.55 409.3h6.83v2.32h-6.83zM427.39 409.3h4.62v2.32h-4.62zM436.23 409.3h2.41v2.32h-2.41zM440.65 409.3h2.41v2.32h-2.41zM445.07 409.3h2.41v2.32h-2.41zM451.7 409.3h2.41v2.32h-2.41zM456.12 409.3h2.41v2.32h-2.41zM460.54 409.3h2.41v2.32h-2.41zM195.33 411.42h2.41v2.32h-2.41zM281.52 411.42h2.41v2.32h-2.41zM354.46 411.42h2.41v2.32h-2.41zM358.88 411.42h2.41v2.32h-2.41zM374.35 411.42h2.41v2.32h-2.41zM387.61 411.42h2.41v2.32h-2.41zM392.03 411.42h2.41v2.32h-2.41zM396.45 411.42h2.41v2.32h-2.41zM403.08 411.42h6.83v2.32h-6.83zM411.92 411.42h9.04v2.32h-9.04zM427.39 411.42h13.46v2.32h-13.46zM445.07 411.42h11.25v2.32h-11.25zM458.33 411.42h4.62v2.32h-4.62zM471.59 411.42h2.41v2.32h-2.41zM261.63 413.55h2.41v2.32h-2.41zM266.05 413.55h2.41v2.32h-2.41zM338.99 413.55h2.41v2.32h-2.41zM372.14 413.55h2.41v2.32h-2.41zM380.98 413.55h4.62v2.32h-4.62zM387.61 413.55h9.04v2.32h-9.04zM398.66 413.55h9.04v2.32h-9.04zM409.71 413.55h2.41v2.32h-2.41zM414.13 413.55h4.62v2.32h-4.62zM420.76 413.55h4.62v2.32h-4.62zM427.39 413.55h17.88v2.32h-17.88zM447.28 413.55h9.04v2.32h-9.04zM462.75 413.55h2.41v2.32h-2.41zM228.48 415.67h2.41v2.32h-2.41zM250.58 415.67h4.62v2.32h-4.62zM279.31 415.67h2.41v2.32h-2.41zM336.77 415.67h2.41v2.32h-2.41zM352.25 415.67h2.41v2.32h-2.41zM356.67 415.67h6.83v2.32h-6.83zM365.51 415.67h2.41v2.32h-2.41zM383.19 415.67h2.41v2.32h-2.41zM387.61 415.67h2.41v2.32h-2.41zM392.03 415.67h2.41v2.32h-2.41zM398.66 415.67h6.83v2.32h-6.83zM407.5 415.67h2.41v2.32h-2.41zM411.92 415.67h24.51v2.32h-24.51zM440.65 415.67h2.41v2.32h-2.41zM456.12 415.67h2.41v2.32h-2.41zM522.43 415.67h2.41v2.32h-2.41zM226.27 417.79h2.41v2.32h-2.41zM268.26 417.79h2.41v2.32h-2.41zM285.94 417.79h2.41v2.32h-2.41zM301.41 417.79h2.41v2.32h-2.41zM376.56 417.79h6.83v2.32h-6.83zM385.4 417.79h2.41v2.32h-2.41zM398.66 417.79h2.41v2.32h-2.41zM405.29 417.79h2.41v2.32h-2.41zM409.71 417.79h4.62v2.32h-4.62zM418.55 417.79h2.41v2.32h-2.41zM422.97 417.79h11.25v2.32h-11.25zM436.23 417.79h2.41v2.32h-2.41zM440.65 417.79h4.62v2.32h-4.62zM449.49 417.79h4.62v2.32h-4.62zM456.12 417.79h2.41v2.32h-2.41zM471.59 417.79h2.41v2.32h-2.41zM252.79 419.91h2.41v2.32h-2.41zM281.52 419.91h2.41v2.32h-2.41zM301.41 419.91h2.41v2.32h-2.41zM361.09 419.91h9.04v2.32h-9.04zM387.61 419.91h9.04v2.32h-9.04zM398.66 419.91h2.41v2.32h-2.41zM411.92 419.91h4.62v2.32h-4.62zM418.55 419.91h11.25v2.32h-11.25zM431.81 419.91h6.83v2.32h-6.83zM445.07 419.91h2.41v2.32h-2.41zM456.12 419.91h2.41v2.32h-2.41zM460.54 419.91h2.41v2.32h-2.41zM464.96 419.91h2.41v2.32h-2.41zM480.44 419.91h2.41v2.32h-2.41zM255 422.04h2.41v2.32h-2.41zM274.89 422.04h2.41v2.32h-2.41zM296.99 422.04h2.41v2.32h-2.41zM361.09 422.04h2.41v2.32h-2.41zM369.93 422.04h2.41v2.32h-2.41zM376.56 422.04h4.62v2.32h-4.62zM383.19 422.04h6.83v2.32h-6.83zM394.24 422.04h2.41v2.32h-2.41zM398.66 422.04h2.41v2.32h-2.41zM405.29 422.04h9.04v2.32h-9.04zM416.34 422.04h2.41v2.32h-2.41zM420.76 422.04h13.46v2.32h-13.46zM436.23 422.04h2.41v2.32h-2.41zM440.65 422.04h2.41v2.32h-2.41zM445.07 422.04h2.41v2.32h-2.41zM451.7 422.04h2.41v2.32h-2.41zM458.33 422.04h2.41v2.32h-2.41zM462.75 422.04h2.41v2.32h-2.41zM476.01 422.04h2.41v2.32h-2.41zM241.74 424.16h2.41v2.32h-2.41zM259.42 424.16h2.41v2.32h-2.41zM266.05 424.16h4.62v2.32h-4.62zM338.99 424.16h2.41v2.32h-2.41zM363.3 424.16h2.41v2.32h-2.41zM369.93 424.16h4.62v2.32h-4.62zM385.4 424.16h2.41v2.32h-2.41zM389.82 424.16h6.83v2.32h-6.83zM398.66 424.16h11.25v2.32h-11.25zM411.92 424.16h4.62v2.32h-4.62zM418.55 424.16h2.41v2.32h-2.41zM427.39 424.16h2.41v2.32h-2.41zM431.81 424.16h4.62v2.32h-4.62zM440.65 424.16h2.41v2.32h-2.41zM447.28 424.16h4.62v2.32h-4.62zM458.33 424.16h4.62v2.32h-4.62zM480.44 424.16h2.41v2.32h-2.41zM283.73 426.28h2.41v2.32h-2.41zM288.15 426.28h2.41v2.32h-2.41zM294.78 426.28h2.41v2.32h-2.41zM363.3 426.28h2.41v2.32h-2.41zM367.72 426.28h2.41v2.32h-2.41zM374.35 426.28h2.41v2.32h-2.41zM383.19 426.28h2.41v2.32h-2.41zM389.82 426.28h2.41v2.32h-2.41zM398.66 426.28h6.83v2.32h-6.83zM414.13 426.28h4.62v2.32h-4.62zM425.18 426.28h2.41v2.32h-2.41zM436.23 426.28h2.41v2.32h-2.41zM447.28 426.28h2.41v2.32h-2.41zM451.7 426.28h2.41v2.32h-2.41zM478.22 426.28h2.41v2.32h-2.41zM484.86 426.28h2.41v2.32h-2.41zM266.05 428.4h2.41v2.32h-2.41zM367.72 428.4h2.41v2.32h-2.41zM378.77 428.4h2.41v2.32h-2.41zM387.61 428.4h2.41v2.32h-2.41zM392.03 428.4h9.04v2.32h-9.04zM405.29 428.4h9.04v2.32h-9.04zM416.34 428.4h2.41v2.32h-2.41zM425.18 428.4h2.41v2.32h-2.41zM429.6 428.4h6.83v2.32h-6.83zM438.44 428.4h2.41v2.32h-2.41zM447.28 428.4h2.41v2.32h-2.41zM453.91 428.4h2.41v2.32h-2.41zM458.33 428.4h4.62v2.32h-4.62zM464.96 428.4h2.41v2.32h-2.41zM469.38 428.4h2.41v2.32h-2.41zM478.22 428.4h2.41v2.32h-2.41zM506.96 428.4h2.41v2.32h-2.41zM193.11 430.53h2.41v2.32h-2.41zM261.63 430.53h2.41v2.32h-2.41zM279.31 430.53h2.41v2.32h-2.41zM336.77 430.53h2.41v2.32h-2.41zM361.09 430.53h2.41v2.32h-2.41zM365.51 430.53h2.41v2.32h-2.41zM372.14 430.53h2.41v2.32h-2.41zM385.4 430.53h2.41v2.32h-2.41zM389.82 430.53h4.62v2.32h-4.62zM396.45 430.53h2.41v2.32h-2.41zM403.08 430.53h4.62v2.32h-4.62zM409.71 430.53h4.62v2.32h-4.62zM416.34 430.53h2.41v2.32h-2.41zM425.18 430.53h2.41v2.32h-2.41zM429.6 430.53h4.62v2.32h-4.62zM436.23 430.53h2.41v2.32h-2.41zM440.65 430.53h2.41v2.32h-2.41zM445.07 430.53h2.41v2.32h-2.41zM449.49 430.53h9.04v2.32h-9.04zM480.44 430.53h2.41v2.32h-2.41zM197.54 432.65h2.41v2.32h-2.41zM274.89 432.65h2.41v2.32h-2.41zM292.57 432.65h2.41v2.32h-2.41zM356.67 432.65h2.41v2.32h-2.41zM378.77 432.65h2.41v2.32h-2.41zM383.19 432.65h2.41v2.32h-2.41zM392.03 432.65h6.83v2.32h-6.83zM400.87 432.65h9.04v2.32h-9.04zM414.13 432.65h2.41v2.32h-2.41zM418.55 432.65h4.62v2.32h-4.62zM425.18 432.65h2.41v2.32h-2.41zM431.81 432.65h4.62v2.32h-4.62zM440.65 432.65h2.41v2.32h-2.41zM445.07 432.65h4.62v2.32h-4.62zM453.91 432.65h2.41v2.32h-2.41zM458.33 432.65h2.41v2.32h-2.41zM186.48 434.77h2.41v2.32h-2.41zM197.54 434.77h2.41v2.32h-2.41zM239.53 434.77h2.41v2.32h-2.41zM252.79 434.77h2.41v2.32h-2.41zM268.26 434.77h2.41v2.32h-2.41zM352.25 434.77h2.41v2.32h-2.41zM365.51 434.77h6.83v2.32h-6.83zM380.98 434.77h2.41v2.32h-2.41zM387.61 434.77h13.46v2.32h-13.46zM403.08 434.77h2.41v2.32h-2.41zM407.5 434.77h4.62v2.32h-4.62zM418.55 434.77h15.67v2.32h-15.67zM436.23 434.77h11.25v2.32h-11.25zM449.49 434.77h2.41v2.32h-2.41zM453.91 434.77h2.41v2.32h-2.41zM458.33 434.77h4.62v2.32h-4.62zM464.96 434.77h2.41v2.32h-2.41zM469.38 434.77h2.41v2.32h-2.41zM237.32 436.9h2.41v2.32h-2.41zM241.74 436.9h2.41v2.32h-2.41zM255 436.9h2.41v2.32h-2.41zM334.56 436.9h2.41v2.32h-2.41zM352.25 436.9h2.41v2.32h-2.41zM361.09 436.9h2.41v2.32h-2.41zM367.72 436.9h2.41v2.32h-2.41zM372.14 436.9h4.62v2.32h-4.62zM383.19 436.9h2.41v2.32h-2.41zM387.61 436.9h6.83v2.32h-6.83zM398.66 436.9h2.41v2.32h-2.41zM403.08 436.9h2.41v2.32h-2.41zM407.5 436.9h2.41v2.32h-2.41zM411.92 436.9h2.41v2.32h-2.41zM416.34 436.9h4.62v2.32h-4.62zM427.39 436.9h2.41v2.32h-2.41zM431.81 436.9h4.62v2.32h-4.62zM438.44 436.9h15.67v2.32h-15.67zM458.33 436.9h2.41v2.32h-2.41zM464.96 436.9h2.41v2.32h-2.41zM469.38 436.9h2.41v2.32h-2.41zM482.65 436.9h2.41v2.32h-2.41zM219.64 439.02h2.41v2.32h-2.41zM257.21 439.02h2.41v2.32h-2.41zM268.26 439.02h2.41v2.32h-2.41zM285.94 439.02h2.41v2.32h-2.41zM332.35 439.02h2.41v2.32h-2.41zM374.35 439.02h4.62v2.32h-4.62zM380.98 439.02h2.41v2.32h-2.41zM385.4 439.02h2.41v2.32h-2.41zM396.45 439.02h2.41v2.32h-2.41zM405.29 439.02h4.62v2.32h-4.62zM414.13 439.02h9.04v2.32h-9.04zM425.18 439.02h4.62v2.32h-4.62zM431.81 439.02h2.41v2.32h-2.41zM436.23 439.02h2.41v2.32h-2.41zM440.65 439.02h2.41v2.32h-2.41zM445.07 439.02h9.04v2.32h-9.04zM464.96 439.02h4.62v2.32h-4.62zM476.01 439.02h2.41v2.32h-2.41zM142.28 441.14h2.41v2.32h-2.41zM221.85 441.14h2.41v2.32h-2.41zM283.73 441.14h2.41v2.32h-2.41zM314.67 441.14h2.41v2.32h-2.41zM347.83 441.14h2.41v2.32h-2.41zM354.46 441.14h2.41v2.32h-2.41zM367.72 441.14h2.41v2.32h-2.41zM374.35 441.14h2.41v2.32h-2.41zM385.4 441.14h11.25v2.32h-11.25zM398.66 441.14h2.41v2.32h-2.41zM403.08 441.14h11.25v2.32h-11.25zM418.55 441.14h2.41v2.32h-2.41zM425.18 441.14h2.41v2.32h-2.41zM429.6 441.14h2.41v2.32h-2.41zM436.23 441.14h4.62v2.32h-4.62zM447.28 441.14h2.41v2.32h-2.41zM451.7 441.14h2.41v2.32h-2.41zM464.96 441.14h2.41v2.32h-2.41zM476.01 441.14h2.41v2.32h-2.41zM484.86 441.14h2.41v2.32h-2.41zM323.51 443.26h2.41v2.32h-2.41zM369.93 443.26h6.83v2.32h-6.83zM380.98 443.26h4.62v2.32h-4.62zM389.82 443.26h4.62v2.32h-4.62zM398.66 443.26h2.41v2.32h-2.41zM403.08 443.26h4.62v2.32h-4.62zM414.13 443.26h2.41v2.32h-2.41zM420.76 443.26h4.62v2.32h-4.62zM427.39 443.26h2.41v2.32h-2.41zM431.81 443.26h4.62v2.32h-4.62zM438.44 443.26h4.62v2.32h-4.62zM451.7 443.26h4.62v2.32h-4.62zM458.33 443.26h4.62v2.32h-4.62zM464.96 443.26h4.62v2.32h-4.62zM473.8 443.26h4.62v2.32h-4.62zM248.37 445.39h2.41v2.32h-2.41zM292.57 445.39h2.41v2.32h-2.41zM336.77 445.39h2.41v2.32h-2.41zM363.3 445.39h2.41v2.32h-2.41zM387.61 445.39h4.62v2.32h-4.62zM394.24 445.39h2.41v2.32h-2.41zM398.66 445.39h2.41v2.32h-2.41zM403.08 445.39h4.62v2.32h-4.62zM409.71 445.39h2.41v2.32h-2.41zM416.34 445.39h4.62v2.32h-4.62zM422.97 445.39h2.41v2.32h-2.41zM427.39 445.39h6.83v2.32h-6.83zM449.49 445.39h2.41v2.32h-2.41zM456.12 445.39h6.83v2.32h-6.83zM473.8 445.39h2.41v2.32h-2.41zM281.52 447.51h2.41v2.32h-2.41zM367.72 447.51h9.04v2.32h-9.04zM380.98 447.51h2.41v2.32h-2.41zM387.61 447.51h13.46v2.32h-13.46zM403.08 447.51h2.41v2.32h-2.41zM407.5 447.51h2.41v2.32h-2.41zM411.92 447.51h6.83v2.32h-6.83zM425.18 447.51h6.83v2.32h-6.83zM434.02 447.51h4.62v2.32h-4.62zM440.65 447.51h2.41v2.32h-2.41zM460.54 447.51h2.41v2.32h-2.41zM469.38 447.51h4.62v2.32h-4.62zM482.65 447.51h2.41v2.32h-2.41zM237.32 449.63h2.41v2.32h-2.41zM257.21 449.63h2.41v2.32h-2.41zM292.57 449.63h2.41v2.32h-2.41zM325.72 449.63h2.41v2.32h-2.41zM378.77 449.63h2.41v2.32h-2.41zM385.4 449.63h2.41v2.32h-2.41zM396.45 449.63h2.41v2.32h-2.41zM403.08 449.63h9.04v2.32h-9.04zM416.34 449.63h2.41v2.32h-2.41zM425.18 449.63h15.67v2.32h-15.67zM442.86 449.63h6.83v2.32h-6.83zM451.7 449.63h4.62v2.32h-4.62zM469.38 449.63h2.41v2.32h-2.41zM478.22 449.63h2.41v2.32h-2.41zM188.69 451.75h2.41v2.32h-2.41zM259.42 451.75h2.41v2.32h-2.41zM274.89 451.75h2.41v2.32h-2.41zM378.77 451.75h2.41v2.32h-2.41zM387.61 451.75h6.83v2.32h-6.83zM398.66 451.75h4.62v2.32h-4.62zM416.34 451.75h2.41v2.32h-2.41zM422.97 451.75h9.04v2.32h-9.04zM434.02 451.75h6.83v2.32h-6.83zM445.07 451.75h2.41v2.32h-2.41zM453.91 451.75h2.41v2.32h-2.41zM458.33 451.75h4.62v2.32h-4.62zM471.59 451.75h2.41v2.32h-2.41zM476.01 451.75h6.83v2.32h-6.83zM188.69 453.88h2.41v2.32h-2.41zM230.69 453.88h2.41v2.32h-2.41zM241.74 453.88h2.41v2.32h-2.41zM261.63 453.88h2.41v2.32h-2.41zM365.51 453.88h2.41v2.32h-2.41zM372.14 453.88h4.62v2.32h-4.62zM383.19 453.88h4.62v2.32h-4.62zM389.82 453.88h4.62v2.32h-4.62zM396.45 453.88h2.41v2.32h-2.41zM403.08 453.88h2.41v2.32h-2.41zM407.5 453.88h9.04v2.32h-9.04zM418.55 453.88h2.41v2.32h-2.41zM429.6 453.88h4.62v2.32h-4.62zM445.07 453.88h4.62v2.32h-4.62zM458.33 453.88h2.41v2.32h-2.41zM462.75 453.88h2.41v2.32h-2.41zM495.91 453.88h2.41v2.32h-2.41zM358.88 456h2.41v2.32h-2.41zM385.4 456h4.62v2.32h-4.62zM396.45 456h2.41v2.32h-2.41zM407.5 456h6.83v2.32h-6.83zM416.34 456h4.62v2.32h-4.62zM427.39 456h4.62v2.32h-4.62zM434.02 456h2.41v2.32h-2.41zM438.44 456h9.04v2.32h-9.04zM469.38 456h2.41v2.32h-2.41zM201.96 458.12h2.41v2.32h-2.41zM248.37 458.12h2.41v2.32h-2.41zM365.51 458.12h2.41v2.32h-2.41zM369.93 458.12h2.41v2.32h-2.41zM387.61 458.12h11.25v2.32h-11.25zM400.87 458.12h4.62v2.32h-4.62zM407.5 458.12h2.41v2.32h-2.41zM411.92 458.12h2.41v2.32h-2.41zM416.34 458.12h4.62v2.32h-4.62zM422.97 458.12h2.41v2.32h-2.41zM429.6 458.12h2.41v2.32h-2.41zM434.02 458.12h4.62v2.32h-4.62zM440.65 458.12h2.41v2.32h-2.41zM449.49 458.12h2.41v2.32h-2.41zM453.91 458.12h6.83v2.32h-6.83zM464.96 458.12h4.62v2.32h-4.62zM476.01 458.12h2.41v2.32h-2.41zM235.11 460.24h2.41v2.32h-2.41zM250.58 460.24h2.41v2.32h-2.41zM272.68 460.24h2.41v2.32h-2.41zM356.67 460.24h2.41v2.32h-2.41zM365.51 460.24h2.41v2.32h-2.41zM396.45 460.24h4.62v2.32h-4.62zM409.71 460.24h4.62v2.32h-4.62zM416.34 460.24h4.62v2.32h-4.62zM422.97 460.24h2.41v2.32h-2.41zM427.39 460.24h4.62v2.32h-4.62zM434.02 460.24h4.62v2.32h-4.62zM447.28 460.24h4.62v2.32h-4.62zM288.15 462.37h2.41v2.32h-2.41zM369.93 462.37h4.62v2.32h-4.62zM385.4 462.37h2.41v2.32h-2.41zM394.24 462.37h4.62v2.32h-4.62zM405.29 462.37h4.62v2.32h-4.62zM414.13 462.37h2.41v2.32h-2.41zM418.55 462.37h4.62v2.32h-4.62zM425.18 462.37h4.62v2.32h-4.62zM438.44 462.37h4.62v2.32h-4.62zM445.07 462.37h4.62v2.32h-4.62zM482.65 462.37h2.41v2.32h-2.41zM350.04 464.49h4.62v2.32h-4.62zM365.51 464.49h2.41v2.32h-2.41zM369.93 464.49h2.41v2.32h-2.41zM374.35 464.49h2.41v2.32h-2.41zM378.77 464.49h2.41v2.32h-2.41zM398.66 464.49h2.41v2.32h-2.41zM403.08 464.49h2.41v2.32h-2.41zM407.5 464.49h4.62v2.32h-4.62zM416.34 464.49h9.04v2.32h-9.04zM427.39 464.49h2.41v2.32h-2.41zM451.7 464.49h2.41v2.32h-2.41zM456.12 464.49h2.41v2.32h-2.41zM460.54 464.49h2.41v2.32h-2.41zM257.21 466.61h2.41v2.32h-2.41zM338.99 466.61h2.41v2.32h-2.41zM356.67 466.61h2.41v2.32h-2.41zM374.35 466.61h2.41v2.32h-2.41zM385.4 466.61h2.41v2.32h-2.41zM389.82 466.61h2.41v2.32h-2.41zM396.45 466.61h2.41v2.32h-2.41zM405.29 466.61h2.41v2.32h-2.41zM409.71 466.61h2.41v2.32h-2.41zM414.13 466.61h2.41v2.32h-2.41zM418.55 466.61h9.04v2.32h-9.04zM431.81 466.61h2.41v2.32h-2.41zM438.44 466.61h2.41v2.32h-2.41zM453.91 466.61h2.41v2.32h-2.41zM243.95 468.74h2.41v2.32h-2.41zM374.35 468.74h2.41v2.32h-2.41zM400.87 468.74h4.62v2.32h-4.62zM407.5 468.74h2.41v2.32h-2.41zM411.92 468.74h2.41v2.32h-2.41zM418.55 468.74h2.41v2.32h-2.41zM431.81 468.74h2.41v2.32h-2.41zM438.44 468.74h6.83v2.32h-6.83zM462.75 468.74h2.41v2.32h-2.41zM268.26 470.86h2.41v2.32h-2.41zM347.83 470.86h2.41v2.32h-2.41zM354.46 470.86h2.41v2.32h-2.41zM383.19 470.86h2.41v2.32h-2.41zM392.03 470.86h2.41v2.32h-2.41zM398.66 470.86h2.41v2.32h-2.41zM414.13 470.86h2.41v2.32h-2.41zM420.76 470.86h2.41v2.32h-2.41zM427.39 470.86h2.41v2.32h-2.41zM431.81 470.86h2.41v2.32h-2.41zM438.44 470.86h9.04v2.32h-9.04zM462.75 470.86h2.41v2.32h-2.41zM266.05 472.98h2.41v2.32h-2.41zM281.52 472.98h2.41v2.32h-2.41zM352.25 472.98h2.41v2.32h-2.41zM365.51 472.98h2.41v2.32h-2.41zM383.19 472.98h2.41v2.32h-2.41zM407.5 472.98h2.41v2.32h-2.41zM411.92 472.98h4.62v2.32h-4.62zM449.49 472.98h2.41v2.32h-2.41zM456.12 472.98h2.41v2.32h-2.41zM460.54 472.98h2.41v2.32h-2.41zM226.27 475.1h2.41v2.32h-2.41zM352.25 475.1h2.41v2.32h-2.41zM383.19 475.1h2.41v2.32h-2.41zM396.45 475.1h4.62v2.32h-4.62zM407.5 475.1h6.83v2.32h-6.83zM422.97 475.1h2.41v2.32h-2.41zM451.7 475.1h2.41v2.32h-2.41zM456.12 475.1h2.41v2.32h-2.41zM383.19 477.23h2.41v2.32h-2.41zM400.87 477.23h4.62v2.32h-4.62zM418.55 477.23h2.41v2.32h-2.41zM445.07 477.23h2.41v2.32h-2.41zM471.59 477.23h2.41v2.32h-2.41zM274.89 479.35h2.41v2.32h-2.41zM281.52 479.35h2.41v2.32h-2.41zM387.61 479.35h2.41v2.32h-2.41zM400.87 479.35h4.62v2.32h-4.62zM409.71 479.35h2.41v2.32h-2.41zM418.55 479.35h2.41v2.32h-2.41zM436.23 479.35h2.41v2.32h-2.41zM266.05 481.47h2.41v2.32h-2.41zM361.09 481.47h2.41v2.32h-2.41zM372.14 481.47h2.41v2.32h-2.41zM383.19 481.47h2.41v2.32h-2.41zM392.03 481.47h4.62v2.32h-4.62zM429.6 481.47h2.41v2.32h-2.41zM447.28 481.47h2.41v2.32h-2.41zM363.3 483.59h2.41v2.32h-2.41zM376.56 483.59h2.41v2.32h-2.41zM389.82 483.59h2.41v2.32h-2.41zM422.97 483.59h2.41v2.32h-2.41zM431.81 483.59h2.41v2.32h-2.41zM436.23 483.59h2.41v2.32h-2.41zM442.86 483.59h4.62v2.32h-4.62zM449.49 483.59h2.41v2.32h-2.41zM458.33 483.59h4.62v2.32h-4.62zM469.38 483.59h2.41v2.32h-2.41zM257.21 485.72h4.62v2.32h-4.62zM303.62 485.72h2.41v2.32h-2.41zM392.03 485.72h2.41v2.32h-2.41zM411.92 485.72h4.62v2.32h-4.62zM418.55 485.72h2.41v2.32h-2.41zM438.44 485.72h4.62v2.32h-4.62zM361.09 487.84h2.41v2.32h-2.41zM392.03 487.84h2.41v2.32h-2.41zM409.71 487.84h2.41v2.32h-2.41zM422.97 487.84h2.41v2.32h-2.41zM449.49 487.84h2.41v2.32h-2.41zM261.63 489.96h2.41v2.32h-2.41zM409.71 492.08h2.41v2.32h-2.41zM425.18 492.08h4.62v2.32h-4.62zM341.2 494.21h2.41v2.32h-2.41zM374.35 494.21h2.41v2.32h-2.41zM414.13 494.21h2.41v2.32h-2.41zM425.18 494.21h2.41v2.32h-2.41zM436.23 494.21h4.62v2.32h-4.62zM453.91 494.21h2.41v2.32h-2.41zM467.17 494.21h2.41v2.32h-2.41zM427.39 496.33h2.41v2.32h-2.41zM206.38 498.45h2.41v2.32h-2.41zM396.45 498.45h2.41v2.32h-2.41zM405.29 498.45h4.62v2.32h-4.62zM420.76 498.45h2.41v2.32h-2.41zM447.28 498.45h2.41v2.32h-2.41zM427.39 500.57h2.41v2.32h-2.41zM447.28 502.7h2.41v2.32h-2.41zM436.23 506.94h2.41v2.32h-2.41zM361.09 509.07h2.41v2.32h-2.41zM396.45 509.07h2.41v2.32h-2.41zM442.86 509.07h2.41v2.32h-2.41zM252.79 511.19h2.41v2.32h-2.41zM414.13 511.19h2.41v2.32h-2.41zM213.01 513.31h2.41v2.32h-2.41zM288.15 513.31h2.41v2.32h-2.41zM338.99 513.31h2.41v2.32h-2.41zM383.19 515.43h2.41v2.32h-2.41zM365.51 519.68h2.41v2.32h-2.41zM473.8 519.68h2.41v2.32h-2.41zM447.28 523.92h2.41v2.32h-2.41zM403.08 526.05h2.41v2.32h-2.41zM429.6 528.17h2.41v2.32h-2.41zM436.23 532.41h2.41v2.32h-2.41zM392.03 534.54h2.41v2.32h-2.41zM420.76 534.54h2.41v2.32h-2.41zM427.39 534.54h2.41v2.32h-2.41zM453.91 547.27h2.41v2.32h-2.41zM422.97 553.64h2.41v2.32h-2.41z"/>
<g fill="#000">
<rect x="123.2" y="23.8" width="3" height="546.3"/>
<rect x="689" y="23" width="3" height="562.6"/>
<rect x="124.7" y="23.95" width="565.8" height="2.5"/>
<rect x="123.2" y="567.05" width="568.8" height="3.1"/>
<rect x="341.75" y="25.2" width="3.1" height="543.4"/>
<rect x="124.7" y="345.1" width="565.8" height="2.8"/>
<rect x="107.3" y="23.85" width="17.4" height="2.9"/>
<rect x="107.3" y="160.95" width="17.4" height="2.9"/>
<rect x="107.3" y="295.55" width="17.4" height="2.9"/>
<rect x="107.3" y="432.95" width="17.4" height="2.9"/>
<rect x="117.2" y="30" width="7.5" height="2.6"/>
<rect x="117.2" y="39.1" width="7.5" height="2.6"/>
<rect x="117.2" y="45.8" width="7.5" height="2.6"/>
<rect x="117.2" y="55.1" width="7.5" height="2.6"/>
<rect x="117.2" y="67.5" width="7.5" height="2.6"/>
<rect x="117.2" y="80.1" width="7.5" height="2.6"/>
<rect x="117.2" y="95.8" width="7.5" height="2.6"/>
<rect x="117.2" y="120.9" width="7.5" height="2.6"/>
<rect x="117.2" y="167.4" width="7.5" height="2.6"/>
<rect x="117.2" y="174.1" width="7.5" height="2.6"/>
<rect x="117.2" y="183.1" width="7.5" height="2.6"/>
<rect x="117.2" y="192.9" width="7.5" height="2.6"/>
<rect x="117.2" y="202.2" width="7.5" height="2.6"/>
<rect x="117.2" y="214" width="7.5" height="2.6"/>
<rect x="117.2" y="233" width="7.5" height="2.6"/>
<rect x="117.2" y="255.4" width="7.5" height="2.6"/>
<rect x="117.2" y="301.9" width="7.5" height="2.6"/>
<rect x="117.2" y="311" width="7.5" height="2.6"/>
<rect x="117.2" y="317" width="7.5" height="2.6"/>
<rect x="117.2" y="326.9" width="7.5" height="2.6"/>
<rect x="117.2" y="339.4" width="7.5" height="2.6"/>
<rect x="117.2" y="351.9" width="7.5" height="2.6"/>
<rect x="117.2" y="367.2" width="7.5" height="2.6"/>
<rect x="117.2" y="392" width="7.5" height="2.6"/>
<rect x="117.2" y="439.4" width="7.5" height="2.6"/>
<rect x="117.2" y="445.4" width="7.5" height="2.6"/>
<rect x="117.2" y="455.1" width="7.5" height="2.6"/>
<rect x="117.2" y="464.2" width="7.5" height="2.6"/>
<rect x="117.2" y="473.8" width="7.5" height="2.6"/>
<rect x="117.2" y="486.1" width="7.5" height="2.6"/>
<rect x="117.2" y="505" width="7.5" height="2.6"/>
<rect x="117.2" y="526.9" width="7.5" height="2.6"/>
<rect x="264.05" y="568.6" width="2.9" height="16.9"/>
<rect x="404.25" y="568.6" width="2.9" height="16.9"/>
<rect x="544.85" y="568.6" width="2.9" height="16.9"/>
<rect x="164.15" y="568.6" width="2.7" height="7.9"/>
<rect x="189.15" y="568.6" width="2.7" height="7.9"/>
<rect x="207.85" y="568.6" width="2.7" height="7.9"/>
<rect x="219.95" y="568.6" width="2.7" height="7.9"/>
<rect x="232.85" y="568.6" width="2.7" height="7.9"/>
<rect x="242.45" y="568.6" width="2.7" height="7.9"/>
<rect x="248.15" y="568.6" width="2.7" height="7.9"/>
<rect x="257.85" y="568.6" width="2.7" height="7.9"/>
<rect x="304.45" y="568.6" width="2.7" height="7.9"/>
<rect x="329.45" y="568.6" width="2.7" height="7.9"/>
<rect x="348.15" y="568.6" width="2.7" height="7.9"/>
<rect x="360.85" y="568.6" width="2.7" height="7.9"/>
<rect x="373.35" y="568.6" width="2.7" height="7.9"/>
<rect x="383.35" y="568.6" width="2.7" height="7.9"/>
<rect x="392.85" y="568.6" width="2.7" height="7.9"/>
<rect x="398.65" y="568.6" width="2.7" height="7.9"/>
<rect x="448.15" y="568.6" width="2.7" height="7.9"/>
<rect x="473.15" y="568.6" width="2.7" height="7.9"/>
<rect x="489.15" y="568.6" width="2.7" height="7.9"/>
<rect x="504.45" y="568.6" width="2.7" height="7.9"/>
<rect x="514.15" y="568.6" width="2.7" height="7.9"/>
<rect x="523.15" y="568.6" width="2.7" height="7.9"/>
<rect x="533.15" y="568.6" width="2.7" height="7.9"/>
<rect x="539.15" y="568.6" width="2.7" height="7.9"/>
<rect x="589.15" y="568.6" width="2.7" height="7.9"/>
<rect x="614.15" y="568.6" width="2.7" height="7.9"/>
<rect x="632.55" y="568.6" width="2.7" height="7.9"/>
<rect x="645.05" y="568.6" width="2.7" height="7.9"/>
<rect x="657.95" y="568.6" width="2.7" height="7.9"/>
<rect x="666.85" y="568.6" width="2.7" height="7.9"/>
<rect x="673.25" y="568.6" width="2.7" height="7.9"/>
<rect x="679.75" y="568.6" width="2.7" height="7.9"/>
</g>
<g font-family="'Liberation Sans', Arial, Helvetica, sans-serif" fill="#000" opacity="0.999">
<text x="63.9" y="34" font-size="25.6" stroke="#000" stroke-width="0.25">10<tspan font-size="17.8" dx="-0.7" dy="-10.3">3</tspan></text>
<text x="63.9" y="171.1" font-size="25.6" stroke="#000" stroke-width="0.25">10<tspan font-size="17.8" dx="-0.7" dy="-10.3">2</tspan></text>
<text x="63.9" y="305.7" font-size="25.6" stroke="#000" stroke-width="0.25">10<tspan font-size="17.8" dx="-0.7" dy="-10.3">1</tspan></text>
<text x="63.9" y="443.1" font-size="25.6" stroke="#000" stroke-width="0.25">10<tspan font-size="17.8" dx="-0.7" dy="-10.3">0</tspan></text>
<text x="246.3" y="615.9" font-size="25.6" stroke="#000" stroke-width="0.25">10<tspan font-size="17.8" dx="-0.7" dy="-10.3">0</tspan></text>
<text x="386.5" y="615.9" font-size="25.6" stroke="#000" stroke-width="0.25">10<tspan font-size="17.8" dx="-0.7" dy="-10.3">1</tspan></text>
<text x="527.1" y="615.9" font-size="25.6" stroke="#000" stroke-width="0.25">10<tspan font-size="17.8" dx="-0.7" dy="-10.3">2</tspan></text>
<text x="671.3" y="615.9" font-size="25.6" stroke="#000" stroke-width="0.25">10<tspan font-size="17.8" dx="-0.7" dy="-10.3">3</tspan></text>
<text y="656.2" font-size="32.4" stroke="#000" stroke-width="0.35"><tspan x="338.38" textLength="20.4" lengthAdjust="spacingAndGlyphs">C</tspan><tspan x="359.35" textLength="21.69" lengthAdjust="spacingAndGlyphs">D</tspan><tspan x="382.71" textLength="14.13" lengthAdjust="spacingAndGlyphs">3</tspan><tspan x="399.1" font-family="'Liberation Serif', 'DejaVu Serif', serif" font-size="28.5" textLength="13.64" lengthAdjust="spacingAndGlyphs">ε</tspan><tspan x="412.39" textLength="9.66" lengthAdjust="spacingAndGlyphs">-</tspan><tspan x="422.42" textLength="13.93" lengthAdjust="spacingAndGlyphs">F</tspan><tspan x="439.16" textLength="7.62" lengthAdjust="spacingAndGlyphs">I</tspan><tspan x="447.4" textLength="15.73" lengthAdjust="spacingAndGlyphs">T</tspan><tspan x="462.4" textLength="18.48" lengthAdjust="spacingAndGlyphs">C</tspan></text>
<text transform="translate(46 400) rotate(-90)" font-size="32.4" stroke="#000" stroke-width="0.35"><tspan x="32.4" textLength="19.96" lengthAdjust="spacingAndGlyphs">C</tspan><tspan x="52.83" textLength="20.96" lengthAdjust="spacingAndGlyphs">D</tspan><tspan x="75.15" textLength="16.02" lengthAdjust="spacingAndGlyphs">2</tspan><tspan x="91.5" textLength="15.42" lengthAdjust="spacingAndGlyphs">2</tspan><tspan x="108.65" textLength="9.03" lengthAdjust="spacingAndGlyphs">-</tspan><tspan x="118.9" textLength="18.17" lengthAdjust="spacingAndGlyphs">A</tspan><tspan x="140.04" textLength="16.7" lengthAdjust="spacingAndGlyphs">P</tspan><tspan x="156.74" textLength="19.4" lengthAdjust="spacingAndGlyphs">C</tspan></text>
<text y="701" font-size="16.2"><tspan x="15.29" textLength="59.99" lengthAdjust="spacingAndGlyphs">BALB/c</tspan> <tspan x="79.87" textLength="54.16" lengthAdjust="spacingAndGlyphs">mouse</tspan> <tspan x="139.01" textLength="99.38" lengthAdjust="spacingAndGlyphs">splenocytes</tspan> <tspan x="243.57" textLength="37.13" lengthAdjust="spacingAndGlyphs">were</tspan> <tspan x="286.39" textLength="63" lengthAdjust="spacingAndGlyphs">stained</tspan> <tspan x="355.32" textLength="36.53" lengthAdjust="spacingAndGlyphs">with</tspan> <tspan x="396.91" textLength="27.63" lengthAdjust="spacingAndGlyphs">Rat</tspan> <tspan x="431.7" textLength="96.37" lengthAdjust="spacingAndGlyphs">Anti-Mouse</tspan> <tspan x="533.54" textLength="79.71" lengthAdjust="spacingAndGlyphs">CD22-APC</tspan> <tspan x="620.3" textLength="24.93" lengthAdjust="spacingAndGlyphs">(SB</tspan></text>
<text y="721" font-size="16.2"><tspan x="15.84" textLength="33.51" lengthAdjust="spacingAndGlyphs">Cat.</tspan> <tspan x="53.54" textLength="29.16" lengthAdjust="spacingAndGlyphs">No.</tspan> <tspan x="87.18" textLength="70.45" lengthAdjust="spacingAndGlyphs">1580-11)</tspan> <tspan x="162.69" textLength="32.71" lengthAdjust="spacingAndGlyphs">and</tspan> <tspan x="200.3" textLength="27.94" lengthAdjust="spacingAndGlyphs">Rat</tspan> <tspan x="237.3" textLength="93.45" lengthAdjust="spacingAndGlyphs">Anti-Mouse</tspan> <tspan x="336.53" textLength="82.34" lengthAdjust="spacingAndGlyphs">CD3ε-FITC</tspan> <tspan x="425.34" textLength="23.56" lengthAdjust="spacingAndGlyphs">(SB</tspan> <tspan x="455.15" textLength="33.18" lengthAdjust="spacingAndGlyphs">Cat.</tspan> <tspan x="492.5" textLength="29.94" lengthAdjust="spacingAndGlyphs">No.</tspan> <tspan x="527.16" textLength="77.98" lengthAdjust="spacingAndGlyphs">1535-02).</tspan></text>
</g>
<g fill="#fff"><rect x="64.65" y="31.19" width="5.57" height="4.2"/><rect x="72.72" y="31.19" width="5.49" height="4.2"/><rect x="64.65" y="168.29" width="5.57" height="4.2"/><rect x="72.72" y="168.29" width="5.49" height="4.2"/><rect x="64.65" y="302.89" width="5.57" height="4.2"/><rect x="72.72" y="302.89" width="5.49" height="4.2"/><rect x="92.03" y="292.37" width="4" height="4.3"/><rect x="97.84" y="292.37" width="3.98" height="4.3"/><rect x="64.65" y="440.29" width="5.57" height="4.2"/><rect x="72.72" y="440.29" width="5.49" height="4.2"/><rect x="247.05" y="613.09" width="5.57" height="4.2"/><rect x="255.12" y="613.09" width="5.49" height="4.2"/><rect x="387.25" y="613.09" width="5.57" height="4.2"/><rect x="395.32" y="613.09" width="5.49" height="4.2"/><rect x="414.63" y="602.57" width="4" height="4.3"/><rect x="420.44" y="602.57" width="3.98" height="4.3"/><rect x="527.85" y="613.09" width="5.57" height="4.2"/><rect x="535.92" y="613.09" width="5.49" height="4.2"/><rect x="672.05" y="613.09" width="5.57" height="4.2"/><rect x="680.12" y="613.09" width="5.49" height="4.2"/></g>
</svg>
</body></html>
